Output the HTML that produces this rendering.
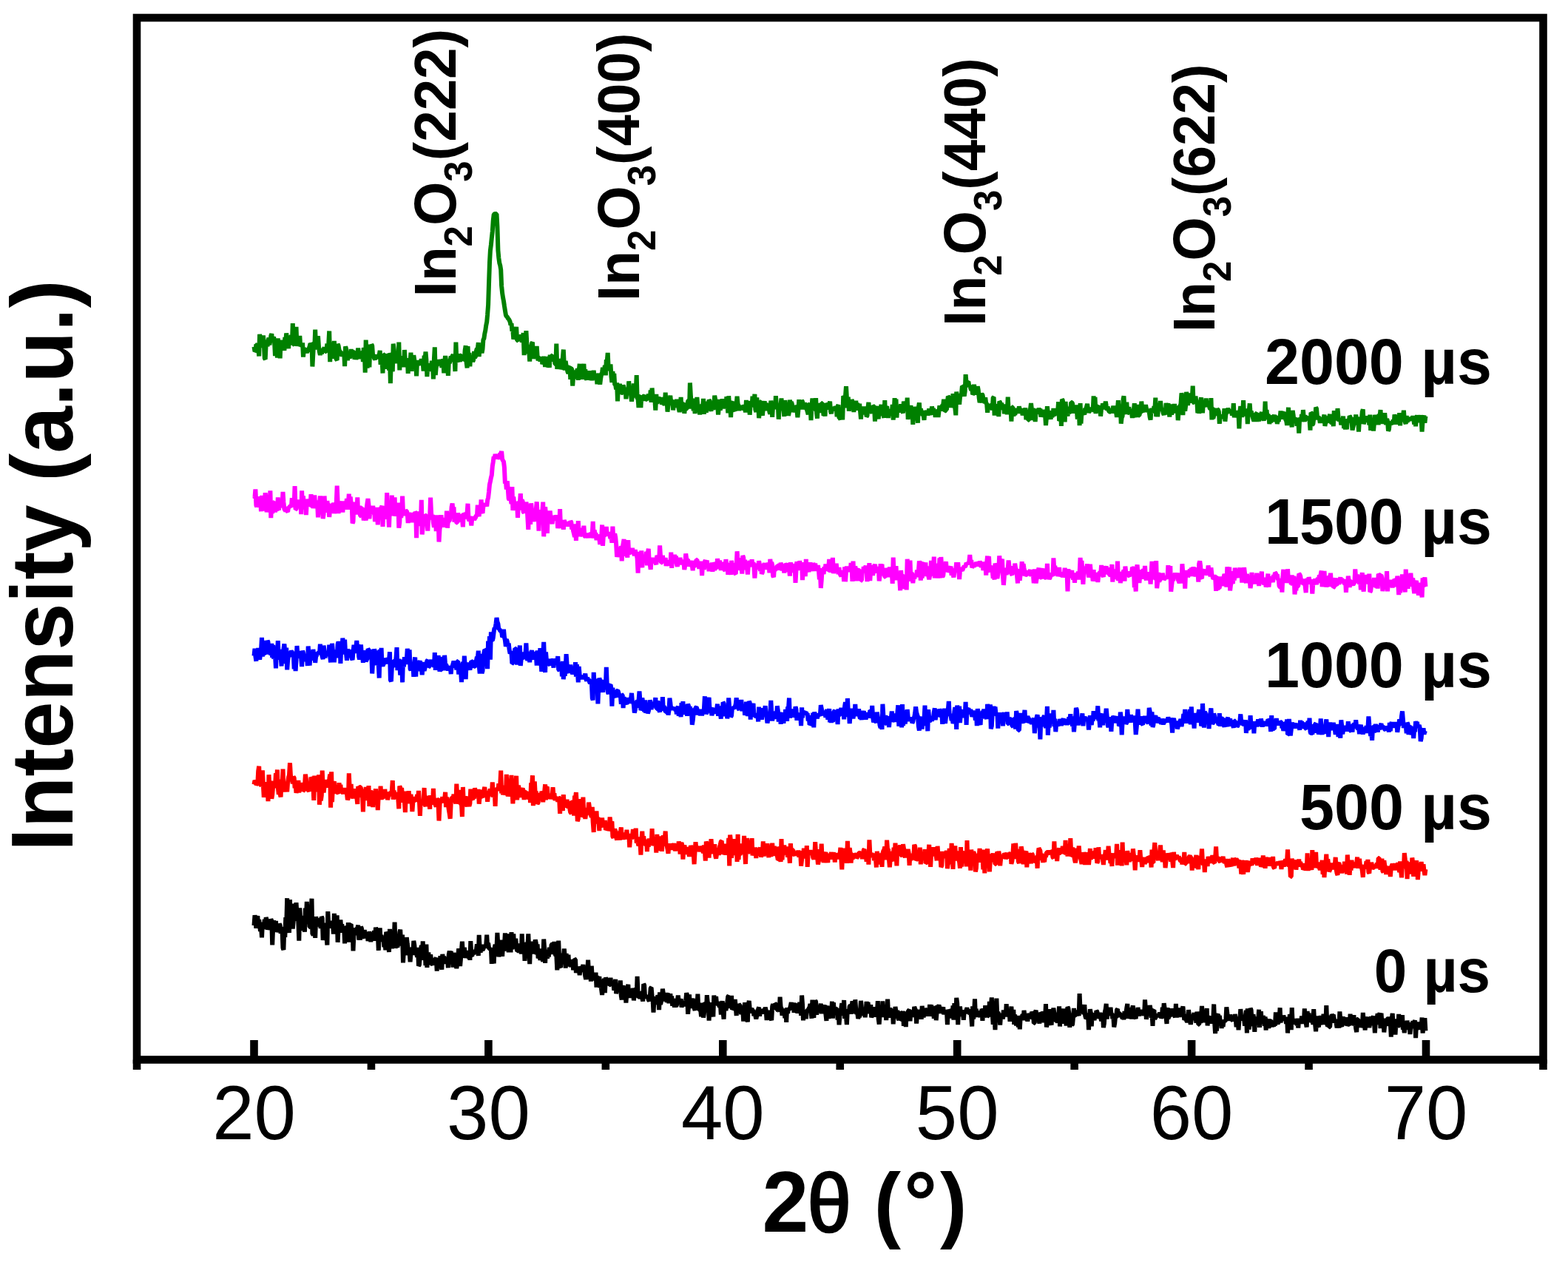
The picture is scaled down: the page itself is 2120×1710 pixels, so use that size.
<!DOCTYPE html>
<html><head><meta charset="utf-8"><style>html,body{margin:0;padding:0;background:#fff;overflow:hidden}svg{display:block}</style></head><body>
<svg width="2120" height="1710" viewBox="0 0 2120 1710">
<rect width="2120" height="1710" fill="#fff"/>
<polyline fill="none" stroke="#008000" stroke-width="6.0" stroke-linejoin="bevel" stroke-linecap="butt" points="343.5,468.8 344.5,475.1 345.4,474.3 346.4,465.5 347.3,466.3 348.3,465.0 349.2,470.2 350.2,481.4 351.1,451.9 352.1,457.6 353.0,463.6 354.0,465.9 354.9,469.5 355.9,453.5 356.8,463.9 357.8,484.6 358.7,485.6 359.7,464.1 360.6,464.2 361.6,468.2 362.5,460.2 363.5,456.8 364.4,466.1 365.4,460.6 366.3,454.1 367.3,451.2 368.2,460.9 369.2,457.1 370.1,455.3 371.1,462.8 372.0,481.0 373.0,461.0 373.9,458.2 374.9,483.7 375.8,457.4 376.8,476.4 377.7,463.8 378.7,484.4 379.6,459.6 380.6,469.8 381.5,461.9 382.5,472.8 383.4,465.3 384.4,473.8 385.3,456.0 386.3,461.5 387.2,450.4 388.2,460.2 389.1,462.5 390.1,471.2 391.0,455.2 392.0,464.9 392.9,456.2 393.9,453.6 394.8,466.5 395.8,437.2 396.7,465.4 397.7,465.7 398.6,453.9 399.6,465.0 400.5,441.8 401.5,467.8 402.4,461.9 403.4,464.4 404.3,466.5 405.3,454.0 406.2,468.4 407.2,465.1 408.1,468.4 409.1,463.5 410.0,482.6 411.0,469.9 412.0,475.8 412.9,470.6 413.9,474.1 414.8,477.1 415.8,472.3 416.7,473.0 417.7,471.1 418.6,468.5 419.6,464.1 420.5,476.0 421.5,463.3 422.4,495.5 423.4,477.1 424.3,462.4 425.3,469.3 426.2,445.7 427.2,472.4 428.1,467.4 429.1,466.0 430.0,454.2 431.0,469.0 431.9,475.5 432.9,479.9 433.8,474.4 434.8,478.4 435.7,474.1 436.7,472.8 437.6,472.1 438.6,469.7 439.5,475.2 440.5,475.0 441.4,473.3 442.4,464.7 443.3,474.6 444.3,464.5 445.2,447.5 446.2,489.1 447.1,468.1 448.1,480.8 449.0,477.3 450.0,484.6 450.9,469.0 451.9,461.0 452.8,479.4 453.8,481.5 454.7,485.5 455.7,486.8 456.6,465.1 457.6,467.3 458.5,472.9 459.5,475.4 460.4,475.3 461.4,477.7 462.3,481.7 463.3,477.2 464.2,481.2 465.2,475.5 466.1,495.2 467.1,468.3 468.0,471.4 469.0,481.2 469.9,487.0 470.9,480.5 471.8,480.4 472.8,483.9 473.7,481.8 474.7,472.1 475.6,477.9 476.6,475.5 477.5,475.4 478.5,476.6 479.5,485.7 480.4,476.5 481.4,485.9 482.3,480.3 483.3,477.7 484.2,470.7 485.2,479.1 486.1,480.6 487.1,484.5 488.0,482.3 489.0,476.9 489.9,476.7 490.9,489.1 491.8,470.2 492.8,472.3 493.7,503.6 494.7,459.5 495.6,482.3 496.6,497.5 497.5,483.3 498.5,483.3 499.4,496.4 500.4,465.7 501.3,474.2 502.3,465.8 503.2,467.1 504.2,482.0 505.1,479.4 506.1,484.6 507.0,485.6 508.0,483.3 508.9,483.5 509.9,482.5 510.8,480.1 511.8,481.5 512.7,480.0 513.7,474.0 514.6,492.9 515.6,485.6 516.5,484.2 517.5,504.5 518.4,479.3 519.4,479.6 520.3,482.4 521.3,480.7 522.2,485.0 523.2,498.9 524.1,478.6 525.1,479.8 526.0,500.5 527.0,484.5 527.9,518.1 528.9,484.5 529.8,477.0 530.8,502.4 531.7,464.7 532.7,472.5 533.6,487.8 534.6,478.2 535.5,486.9 536.5,490.4 537.4,488.0 538.4,487.0 539.3,462.5 540.3,500.4 541.2,481.4 542.2,485.4 543.1,489.1 544.1,493.1 545.0,490.0 546.0,496.1 546.9,473.0 547.9,488.2 548.9,494.6 549.8,491.1 550.8,484.2 551.7,504.8 552.7,484.6 553.6,486.2 554.6,487.3 555.5,476.7 556.5,501.8 557.4,482.2 558.4,493.3 559.3,480.2 560.3,486.8 561.2,492.4 562.2,491.0 563.1,508.3 564.1,487.1 565.0,492.3 566.0,493.1 566.9,490.9 567.9,488.0 568.8,489.4 569.8,485.4 570.7,488.8 571.7,490.1 572.6,501.6 573.6,480.6 574.5,486.5 575.5,475.4 576.4,486.2 577.4,509.0 578.3,496.3 579.3,502.1 580.2,492.0 581.2,493.3 582.1,498.8 583.1,494.3 584.0,487.8 585.0,493.3 585.9,512.4 586.9,485.4 587.8,469.3 588.8,506.9 589.7,496.8 590.7,492.9 591.6,488.8 592.6,491.1 593.5,486.1 594.5,494.2 595.4,491.6 596.4,485.9 597.3,496.9 598.3,492.6 599.2,485.3 600.2,504.3 601.1,488.3 602.1,481.2 603.0,486.7 604.0,490.9 604.9,492.4 605.9,507.9 606.8,489.2 607.8,490.9 608.7,487.5 609.7,481.6 610.6,488.8 611.6,481.1 612.5,480.0 613.5,482.6 614.4,484.2 615.4,502.0 616.4,462.5 617.3,486.3 618.3,489.2 619.2,485.5 620.2,478.3 621.1,484.8 622.1,489.0 623.0,480.8 624.0,480.4 624.9,485.6 625.9,481.0 626.8,486.9 627.8,486.3 628.7,473.2 629.7,467.3 630.6,489.7 631.6,497.4 632.5,468.2 633.5,489.7 634.4,476.9 635.4,495.3 636.3,481.3 637.3,484.1 638.2,483.3 639.2,488.8 640.1,486.5 641.1,475.1 642.0,483.6 643.0,481.8 643.9,474.4 644.9,471.1 645.8,471.4 646.8,463.1 647.7,481.9 648.7,469.8 649.6,467.9 650.6,471.4 651.5,477.2 652.5,471.9 653.4,459.4 654.4,457.5 655.3,451.1 656.3,446.7 657.2,440.2 658.2,435.2 659.1,425.4 660.1,412.1 661.0,383.9 662.0,354.9 662.9,338.6 663.9,330.9 664.8,321.8 665.8,312.8 666.7,298.7 667.7,289.9 668.6,289.3 669.6,288.6 670.5,289.2 671.5,289.5 672.4,305.8 673.4,338.5 674.3,348.3 675.3,355.6 676.2,358.6 677.2,364.7 678.1,386.2 679.1,396.0 680.0,401.9 681.0,407.2 681.9,413.4 682.9,419.7 683.9,425.8 684.8,427.9 685.8,428.2 686.7,430.5 687.7,431.1 688.6,432.7 689.6,435.0 690.5,439.3 691.5,436.9 692.4,447.5 693.4,446.8 694.3,458.6 695.3,453.1 696.2,452.1 697.2,455.3 698.1,441.8 699.1,460.1 700.0,460.3 701.0,456.0 701.9,456.2 702.9,454.8 703.8,459.4 704.8,452.3 705.7,462.7 706.7,458.7 707.6,450.1 708.6,480.1 709.5,465.3 710.5,468.2 711.4,447.1 712.4,465.2 713.3,468.8 714.3,478.1 715.2,472.7 716.2,488.6 717.1,471.7 718.1,477.1 719.0,464.3 720.0,462.6 720.9,484.8 721.9,479.9 722.8,481.1 723.8,475.0 724.7,477.1 725.7,467.9 726.6,481.2 727.6,487.2 728.5,483.6 729.5,483.5 730.4,488.5 731.4,485.0 732.3,482.8 733.3,492.1 734.2,490.1 735.2,481.9 736.1,488.5 737.1,495.8 738.0,483.9 739.0,484.7 739.9,490.6 740.9,496.3 741.8,486.3 742.8,496.9 743.7,479.7 744.7,487.4 745.6,480.9 746.6,480.7 747.5,487.5 748.5,486.9 749.4,479.7 750.4,492.0 751.4,492.3 752.3,464.7 753.3,498.9 754.2,487.2 755.2,488.7 756.1,490.8 757.1,485.1 758.0,499.1 759.0,495.7 759.9,490.1 760.9,483.3 761.8,472.6 762.8,493.7 763.7,500.4 764.7,487.9 765.6,494.6 766.6,497.9 767.5,502.7 768.5,504.6 769.4,496.3 770.4,495.4 771.3,512.9 772.3,498.2 773.2,498.9 774.2,521.6 775.1,509.4 776.1,503.0 777.0,501.2 778.0,505.1 778.9,512.0 779.9,502.9 780.8,498.2 781.8,513.9 782.7,501.5 783.7,491.9 784.6,503.5 785.6,494.4 786.5,499.9 787.5,512.8 788.4,502.1 789.4,491.8 790.3,509.4 791.3,499.3 792.2,511.1 793.2,513.3 794.1,508.4 795.1,507.4 796.0,511.6 797.0,501.3 797.9,509.1 798.9,513.7 799.8,510.3 800.8,514.1 801.7,508.0 802.7,500.9 803.6,510.1 804.6,506.5 805.5,512.1 806.5,504.8 807.4,519.3 808.4,505.5 809.3,509.7 810.3,504.9 811.2,519.7 812.2,511.4 813.1,506.5 814.1,503.0 815.0,497.0 816.0,504.9 816.9,500.6 817.9,493.9 818.9,507.3 819.8,486.5 820.8,488.0 821.7,476.9 822.7,498.0 823.6,500.2 824.6,498.4 825.5,492.5 826.5,509.4 827.4,517.0 828.4,501.9 829.3,512.1 830.3,505.0 831.2,520.2 832.2,520.3 833.1,526.3 834.1,517.4 835.0,542.3 836.0,520.5 836.9,523.8 837.9,518.8 838.8,528.2 839.8,531.6 840.7,531.1 841.7,530.5 842.6,520.6 843.6,524.4 844.5,526.3 845.5,524.8 846.4,539.2 847.4,530.5 848.3,530.1 849.3,532.7 850.2,515.3 851.2,527.9 852.1,528.4 853.1,534.3 854.0,542.7 855.0,535.2 855.9,537.4 856.9,518.5 857.8,531.3 858.8,534.4 859.7,528.7 860.7,507.2 861.6,538.7 862.6,539.3 863.5,550.9 864.5,535.6 865.4,534.8 866.4,551.0 867.3,534.7 868.3,537.8 869.2,541.9 870.2,535.5 871.1,534.8 872.1,537.4 873.0,540.0 874.0,539.8 874.9,538.8 875.9,540.6 876.8,532.6 877.8,535.7 878.7,539.9 879.7,527.5 880.6,543.9 881.6,524.6 882.5,536.4 883.5,539.4 884.4,536.3 885.4,541.2 886.3,554.6 887.3,532.9 888.3,545.6 889.2,541.9 890.2,536.7 891.1,540.1 892.1,537.4 893.0,544.3 894.0,537.0 894.9,546.6 895.9,543.9 896.8,541.5 897.8,545.0 898.7,548.0 899.7,530.6 900.6,546.1 901.6,540.3 902.5,556.6 903.5,547.5 904.4,544.7 905.4,542.1 906.3,534.7 907.3,544.7 908.2,541.7 909.2,541.2 910.1,554.4 911.1,544.3 912.0,542.8 913.0,546.6 913.9,550.7 914.9,539.9 915.8,547.0 916.8,546.3 917.7,552.5 918.7,556.7 919.6,553.1 920.6,536.9 921.5,552.7 922.5,546.3 923.4,545.7 924.4,545.0 925.3,558.9 926.3,548.1 927.2,553.0 928.2,552.3 929.1,550.9 930.1,542.2 931.0,541.7 932.0,552.4 932.9,517.5 933.9,535.3 934.8,544.4 935.8,540.2 936.7,539.0 937.7,555.4 938.6,545.0 939.6,559.1 940.5,548.3 941.5,553.7 942.4,536.9 943.4,548.9 944.3,548.2 945.3,551.1 946.2,560.5 947.2,547.2 948.1,549.9 949.1,547.5 950.0,550.8 951.0,539.0 951.9,559.8 952.9,548.9 953.8,542.6 954.8,557.7 955.8,547.1 956.7,550.2 957.7,546.6 958.6,540.8 959.6,542.1 960.5,552.2 961.5,555.7 962.4,543.6 963.4,550.5 964.3,553.8 965.3,548.1 966.2,534.8 967.2,540.4 968.1,553.0 969.1,549.7 970.0,543.9 971.0,560.5 971.9,551.2 972.9,539.9 973.8,554.6 974.8,546.0 975.7,544.7 976.7,539.5 977.6,544.8 978.6,552.3 979.5,544.4 980.5,552.1 981.4,549.4 982.4,536.2 983.3,545.6 984.3,558.2 985.2,535.3 986.2,547.9 987.1,547.5 988.1,564.0 989.0,544.2 990.0,543.0 990.9,547.8 991.9,544.7 992.8,554.2 993.8,555.3 994.7,548.3 995.7,545.6 996.6,535.9 997.6,546.4 998.5,547.8 999.5,554.8 1000.4,550.5 1001.4,549.5 1002.3,550.3 1003.3,548.8 1004.2,552.1 1005.2,552.3 1006.1,547.6 1007.1,549.4 1008.0,557.3 1009.0,541.0 1009.9,548.3 1010.9,556.9 1011.8,543.0 1012.8,544.8 1013.7,560.7 1014.7,545.5 1015.6,547.1 1016.6,550.3 1017.5,535.7 1018.5,540.0 1019.4,546.8 1020.4,532.8 1021.3,553.6 1022.3,556.9 1023.3,537.4 1024.2,548.3 1025.2,546.8 1026.1,565.1 1027.1,554.3 1028.0,543.4 1029.0,543.2 1029.9,557.5 1030.9,561.6 1031.8,553.0 1032.8,549.3 1033.7,542.2 1034.7,554.8 1035.6,544.6 1036.6,555.0 1037.5,549.7 1038.5,546.6 1039.4,547.7 1040.4,557.0 1041.3,559.5 1042.3,541.6 1043.2,549.6 1044.2,563.9 1045.1,548.7 1046.1,547.4 1047.0,543.6 1048.0,553.3 1048.9,535.2 1049.9,548.4 1050.8,547.5 1051.8,547.1 1052.7,566.7 1053.7,551.9 1054.6,547.7 1055.6,546.7 1056.5,538.5 1057.5,554.6 1058.4,551.3 1059.4,551.8 1060.3,562.9 1061.3,541.1 1062.2,552.0 1063.2,544.0 1064.1,557.7 1065.1,548.4 1066.0,561.8 1067.0,556.8 1067.9,540.6 1068.9,547.8 1069.8,543.4 1070.8,546.0 1071.7,552.8 1072.7,556.8 1073.6,548.9 1074.6,557.5 1075.5,548.3 1076.5,549.8 1077.4,554.6 1078.4,564.2 1079.3,555.3 1080.3,540.3 1081.2,548.7 1082.2,553.2 1083.1,547.9 1084.1,541.8 1085.0,542.7 1086.0,553.3 1086.9,549.6 1087.9,544.6 1088.8,547.4 1089.8,548.7 1090.8,553.6 1091.7,556.2 1092.7,560.4 1093.6,547.2 1094.6,545.9 1095.5,547.6 1096.5,568.1 1097.4,550.0 1098.4,538.5 1099.3,550.8 1100.3,555.3 1101.2,545.6 1102.2,549.3 1103.1,538.2 1104.1,558.6 1105.0,565.5 1106.0,545.1 1106.9,549.8 1107.9,552.6 1108.8,548.8 1109.8,557.8 1110.7,545.1 1111.7,545.2 1112.6,552.1 1113.6,562.0 1114.5,552.5 1115.5,562.7 1116.4,545.3 1117.4,547.0 1118.3,553.1 1119.3,550.2 1120.2,546.8 1121.2,547.3 1122.1,542.6 1123.1,556.6 1124.0,559.1 1125.0,552.8 1125.9,550.4 1126.9,554.5 1127.8,553.2 1128.8,553.1 1129.7,549.5 1130.7,551.8 1131.6,563.3 1132.6,549.2 1133.5,547.4 1134.5,565.0 1135.4,565.3 1136.4,567.0 1137.3,553.8 1138.3,553.0 1139.2,567.5 1140.2,535.3 1141.1,536.4 1142.1,551.2 1143.0,535.4 1144.0,522.3 1144.9,537.7 1145.9,543.3 1146.8,536.6 1147.8,555.7 1148.7,545.8 1149.7,543.5 1150.6,553.4 1151.6,540.1 1152.5,542.9 1153.5,549.1 1154.4,557.0 1155.4,546.1 1156.3,550.3 1157.3,541.8 1158.2,554.8 1159.2,545.0 1160.2,552.0 1161.1,553.3 1162.1,545.9 1163.0,555.1 1164.0,566.5 1164.9,552.2 1165.9,551.8 1166.8,556.7 1167.8,549.8 1168.7,554.6 1169.7,560.1 1170.6,553.9 1171.6,563.1 1172.5,561.9 1173.5,550.8 1174.4,543.9 1175.4,554.9 1176.3,556.5 1177.3,556.0 1178.2,556.1 1179.2,558.6 1180.1,548.6 1181.1,549.4 1182.0,550.0 1183.0,569.5 1183.9,550.6 1184.9,551.7 1185.8,549.2 1186.8,561.5 1187.7,566.2 1188.7,557.0 1189.6,561.6 1190.6,551.8 1191.5,547.0 1192.5,560.4 1193.4,554.6 1194.4,560.9 1195.3,564.7 1196.3,541.2 1197.2,564.9 1198.2,550.6 1199.1,549.4 1200.1,557.3 1201.0,564.9 1202.0,556.1 1202.9,553.8 1203.9,556.3 1204.8,559.3 1205.8,557.7 1206.7,546.9 1207.7,567.5 1208.6,557.3 1209.6,538.2 1210.5,561.3 1211.5,539.7 1212.4,564.5 1213.4,549.0 1214.3,557.3 1215.3,552.3 1216.2,555.9 1217.2,553.0 1218.1,546.5 1219.1,551.0 1220.0,556.1 1221.0,558.4 1221.9,542.7 1222.9,546.7 1223.8,552.1 1224.8,554.9 1225.7,553.1 1226.7,537.6 1227.7,566.9 1228.6,559.9 1229.6,558.9 1230.5,551.8 1231.5,548.4 1232.4,554.9 1233.4,549.8 1234.3,573.9 1235.3,556.1 1236.2,553.7 1237.2,552.8 1238.1,559.0 1239.1,549.8 1240.0,560.8 1241.0,571.6 1241.9,550.5 1242.9,544.5 1243.8,559.9 1244.8,552.6 1245.7,555.9 1246.7,557.4 1247.6,561.7 1248.6,561.1 1249.5,567.8 1250.5,555.0 1251.4,559.5 1252.4,557.9 1253.3,555.1 1254.3,561.4 1255.2,557.8 1256.2,552.6 1257.1,561.0 1258.1,554.7 1259.0,558.2 1260.0,549.5 1260.9,555.7 1261.9,551.7 1262.8,560.5 1263.8,557.3 1264.7,563.8 1265.7,554.2 1266.6,555.6 1267.6,559.0 1268.5,563.8 1269.5,556.2 1270.4,548.4 1271.4,554.5 1272.3,551.9 1273.3,555.4 1274.2,547.1 1275.2,547.4 1276.1,539.8 1277.1,555.9 1278.0,555.4 1279.0,553.9 1279.9,553.7 1280.9,543.4 1281.8,535.8 1282.8,536.8 1283.7,548.6 1284.7,547.0 1285.6,550.3 1286.6,547.7 1287.5,548.6 1288.5,532.3 1289.4,547.0 1290.4,545.4 1291.3,551.5 1292.3,561.3 1293.2,529.5 1294.2,540.4 1295.2,534.8 1296.1,535.9 1297.1,546.8 1298.0,536.9 1299.0,532.8 1299.9,533.6 1300.9,521.9 1301.8,522.4 1302.8,531.7 1303.7,535.5 1304.7,529.0 1305.6,506.2 1306.6,517.4 1307.5,519.3 1308.5,516.4 1309.4,515.9 1310.4,523.2 1311.3,521.1 1312.3,525.1 1313.2,527.5 1314.2,524.2 1315.1,533.2 1316.1,531.9 1317.0,519.8 1318.0,527.2 1318.9,532.7 1319.9,528.1 1320.8,533.4 1321.8,522.2 1322.7,527.1 1323.7,538.1 1324.6,544.0 1325.6,540.8 1326.5,534.3 1327.5,532.7 1328.4,533.7 1329.4,538.4 1330.3,542.7 1331.3,543.6 1332.2,537.5 1333.2,545.0 1334.1,545.6 1335.1,557.8 1336.0,547.9 1337.0,547.4 1337.9,550.5 1338.9,548.9 1339.8,549.4 1340.8,546.2 1341.7,554.3 1342.7,537.5 1343.6,536.8 1344.6,561.6 1345.5,548.5 1346.5,548.6 1347.4,549.1 1348.4,549.5 1349.3,550.8 1350.3,563.0 1351.2,542.6 1352.2,543.8 1353.1,550.2 1354.1,544.9 1355.0,549.6 1356.0,553.5 1356.9,546.5 1357.9,559.3 1358.8,554.3 1359.8,556.3 1360.7,552.9 1361.7,560.1 1362.7,536.6 1363.6,553.1 1364.6,555.0 1365.5,550.5 1366.5,553.7 1367.4,569.7 1368.4,550.3 1369.3,550.4 1370.3,562.5 1371.2,555.4 1372.2,560.8 1373.1,557.5 1374.1,554.7 1375.0,552.7 1376.0,554.8 1376.9,558.6 1377.9,549.2 1378.8,554.4 1379.8,553.9 1380.7,553.8 1381.7,553.1 1382.6,561.3 1383.6,557.6 1384.5,558.7 1385.5,557.8 1386.4,551.4 1387.4,567.2 1388.3,556.5 1389.3,554.4 1390.2,567.8 1391.2,567.8 1392.1,557.2 1393.1,552.3 1394.0,545.0 1395.0,553.8 1395.9,568.1 1396.9,552.1 1397.8,556.0 1398.8,559.6 1399.7,570.0 1400.7,553.5 1401.6,554.8 1402.6,557.8 1403.5,559.4 1404.5,551.6 1405.4,557.1 1406.4,552.5 1407.3,563.6 1408.3,559.2 1409.2,559.8 1410.2,559.5 1411.1,554.2 1412.1,557.2 1413.0,559.5 1414.0,575.1 1414.9,564.7 1415.9,549.3 1416.8,557.2 1417.8,559.5 1418.7,563.2 1419.7,560.8 1420.6,566.7 1421.6,555.3 1422.5,563.2 1423.5,561.5 1424.4,552.0 1425.4,560.9 1426.3,559.9 1427.3,555.2 1428.2,559.7 1429.2,552.8 1430.2,555.3 1431.1,543.3 1432.1,568.8 1433.0,567.5 1434.0,549.4 1434.9,575.9 1435.9,539.9 1436.8,541.0 1437.8,549.8 1438.7,554.6 1439.7,570.4 1440.6,542.9 1441.6,555.9 1442.5,556.5 1443.5,562.5 1444.4,551.6 1445.4,559.6 1446.3,549.8 1447.3,554.0 1448.2,543.9 1449.2,544.0 1450.1,545.5 1451.1,558.6 1452.0,550.8 1453.0,555.2 1453.9,554.0 1454.9,547.6 1455.8,554.6 1456.8,566.5 1457.7,560.7 1458.7,551.7 1459.6,575.1 1460.6,545.0 1461.5,572.5 1462.5,557.2 1463.4,556.8 1464.4,558.2 1465.3,558.5 1466.3,560.5 1467.2,551.9 1468.2,553.4 1469.1,549.7 1470.1,545.9 1471.0,553.1 1472.0,557.6 1472.9,556.0 1473.9,554.9 1474.8,553.0 1475.8,551.8 1476.7,553.2 1477.7,555.8 1478.6,535.4 1479.6,557.1 1480.5,536.8 1481.5,559.0 1482.4,551.5 1483.4,552.5 1484.3,549.8 1485.3,549.3 1486.2,552.9 1487.2,549.5 1488.1,562.6 1489.1,552.3 1490.0,551.4 1491.0,545.5 1491.9,549.9 1492.9,545.5 1493.8,553.3 1494.8,542.6 1495.7,548.4 1496.7,554.5 1497.6,549.7 1498.6,554.5 1499.6,556.1 1500.5,556.7 1501.5,556.6 1502.4,552.1 1503.4,558.5 1504.3,553.2 1505.3,549.0 1506.2,552.8 1507.2,554.0 1508.1,550.1 1509.1,557.9 1510.0,563.7 1511.0,551.8 1511.9,541.2 1512.9,558.9 1513.8,554.8 1514.8,546.6 1515.7,572.6 1516.7,563.9 1517.6,562.8 1518.6,539.6 1519.5,535.5 1520.5,557.6 1521.4,559.2 1522.4,555.8 1523.3,543.8 1524.3,558.7 1525.2,558.1 1526.2,550.4 1527.1,554.2 1528.1,556.8 1529.0,555.7 1530.0,557.8 1530.9,564.8 1531.9,557.9 1532.8,555.3 1533.8,545.3 1534.7,558.2 1535.7,561.3 1536.6,563.5 1537.6,555.7 1538.5,547.0 1539.5,561.5 1540.4,561.4 1541.4,557.2 1542.3,558.6 1543.3,542.6 1544.2,553.2 1545.2,552.5 1546.1,555.0 1547.1,555.1 1548.0,553.7 1549.0,547.3 1549.9,552.2 1550.9,556.7 1551.8,555.1 1552.8,553.7 1553.7,556.9 1554.7,564.0 1555.6,567.6 1556.6,551.9 1557.5,555.1 1558.5,553.7 1559.4,558.3 1560.4,549.0 1561.3,554.4 1562.3,537.6 1563.2,563.1 1564.2,546.5 1565.1,563.3 1566.1,553.0 1567.1,549.4 1568.0,550.8 1569.0,542.1 1569.9,551.4 1570.9,553.9 1571.8,554.2 1572.8,558.6 1573.7,560.7 1574.7,554.1 1575.6,560.4 1576.6,544.9 1577.5,553.3 1578.5,550.5 1579.4,545.3 1580.4,553.5 1581.3,563.4 1582.3,551.9 1583.2,546.4 1584.2,560.6 1585.1,553.3 1586.1,556.6 1587.0,555.9 1588.0,546.1 1588.9,553.3 1589.9,558.0 1590.8,555.4 1591.8,551.5 1592.7,568.2 1593.7,554.2 1594.6,548.7 1595.6,548.9 1596.5,545.8 1597.5,531.4 1598.4,535.4 1599.4,561.1 1600.3,543.6 1601.3,550.0 1602.2,555.7 1603.2,548.1 1604.1,529.8 1605.1,538.7 1606.0,547.9 1607.0,540.7 1607.9,531.5 1608.9,541.9 1609.8,542.0 1610.8,542.0 1611.7,540.2 1612.7,521.6 1613.6,544.0 1614.6,544.6 1615.5,540.4 1616.5,535.5 1617.4,543.5 1618.4,543.6 1619.3,558.2 1620.3,546.2 1621.2,558.9 1622.2,549.4 1623.1,542.1 1624.1,537.4 1625.0,547.2 1626.0,558.2 1626.9,544.9 1627.9,545.7 1628.8,547.9 1629.8,549.9 1630.7,538.5 1631.7,547.5 1632.6,548.2 1633.6,546.6 1634.6,544.9 1635.5,551.6 1636.5,552.9 1637.4,538.2 1638.4,567.3 1639.3,550.8 1640.3,565.6 1641.2,562.3 1642.2,554.2 1643.1,552.1 1644.1,561.5 1645.0,558.3 1646.0,553.3 1646.9,553.9 1647.9,556.6 1648.8,572.8 1649.8,562.6 1650.7,560.8 1651.7,564.7 1652.6,563.3 1653.6,564.0 1654.5,563.2 1655.5,552.2 1656.4,569.6 1657.4,559.9 1658.3,558.2 1659.3,554.5 1660.2,552.5 1661.2,554.4 1662.1,558.7 1663.1,554.3 1664.0,555.7 1665.0,556.5 1665.9,561.6 1666.9,557.9 1667.8,545.2 1668.8,564.3 1669.7,557.9 1670.7,561.6 1671.6,555.1 1672.6,560.6 1673.5,559.8 1674.5,560.1 1675.4,579.3 1676.4,555.5 1677.3,549.3 1678.3,557.8 1679.2,563.7 1680.2,557.0 1681.1,541.1 1682.1,562.2 1683.0,557.9 1684.0,552.7 1684.9,558.0 1685.9,554.2 1686.8,573.1 1687.8,555.0 1688.7,555.3 1689.7,545.4 1690.6,558.2 1691.6,555.7 1692.5,559.0 1693.5,562.9 1694.4,566.3 1695.4,569.4 1696.3,566.1 1697.3,565.3 1698.2,559.1 1699.2,558.6 1700.1,569.8 1701.1,563.4 1702.1,569.6 1703.0,559.4 1704.0,564.3 1704.9,559.8 1705.9,557.4 1706.8,562.2 1707.8,565.7 1708.7,568.3 1709.7,563.9 1710.6,542.7 1711.6,567.1 1712.5,553.9 1713.5,564.9 1714.4,560.2 1715.4,563.1 1716.3,573.1 1717.3,563.0 1718.2,570.7 1719.2,567.7 1720.1,564.0 1721.1,562.5 1722.0,565.3 1723.0,560.7 1723.9,569.9 1724.9,563.7 1725.8,564.3 1726.8,573.0 1727.7,568.0 1728.7,569.9 1729.6,564.0 1730.6,564.6 1731.5,555.5 1732.5,565.1 1733.4,559.3 1734.4,557.7 1735.3,566.8 1736.3,558.6 1737.2,557.6 1738.2,567.6 1739.1,568.3 1740.1,574.9 1741.0,566.2 1742.0,550.8 1742.9,567.1 1743.9,561.2 1744.8,568.5 1745.8,571.2 1746.7,577.3 1747.7,554.9 1748.6,560.9 1749.6,570.2 1750.5,567.3 1751.5,566.1 1752.4,565.4 1753.4,575.6 1754.3,567.2 1755.3,567.6 1756.2,585.5 1757.2,564.9 1758.1,566.0 1759.1,569.8 1760.0,560.1 1761.0,568.9 1761.9,554.1 1762.9,566.4 1763.8,569.8 1764.8,563.9 1765.7,563.8 1766.7,563.7 1767.6,566.4 1768.6,563.7 1769.6,567.7 1770.5,567.3 1771.5,581.6 1772.4,557.8 1773.4,558.7 1774.3,574.0 1775.3,573.4 1776.2,566.2 1777.2,558.7 1778.1,566.7 1779.1,550.6 1780.0,552.6 1781.0,563.3 1781.9,566.7 1782.9,564.3 1783.8,565.1 1784.8,571.7 1785.7,566.3 1786.7,571.5 1787.6,568.0 1788.6,570.5 1789.5,564.7 1790.5,560.8 1791.4,575.9 1792.4,570.5 1793.3,571.3 1794.3,568.3 1795.2,570.8 1796.2,562.9 1797.1,564.2 1798.1,560.0 1799.0,570.8 1800.0,571.1 1800.9,567.0 1801.9,566.3 1802.8,576.2 1803.8,555.2 1804.7,562.3 1805.7,567.6 1806.6,565.8 1807.6,564.3 1808.5,552.1 1809.5,564.1 1810.4,569.1 1811.4,566.5 1812.3,567.9 1813.3,574.3 1814.2,565.3 1815.2,570.1 1816.1,562.6 1817.1,579.0 1818.0,569.5 1819.0,580.6 1819.9,568.6 1820.9,580.2 1821.8,566.4 1822.8,569.5 1823.7,569.5 1824.7,562.5 1825.6,563.4 1826.6,570.5 1827.5,568.8 1828.5,581.4 1829.4,577.1 1830.4,573.7 1831.3,564.3 1832.3,568.8 1833.2,560.7 1834.2,567.5 1835.1,574.0 1836.1,566.2 1837.0,583.6 1838.0,566.5 1839.0,565.6 1839.9,569.4 1840.9,566.4 1841.8,556.7 1842.8,553.4 1843.7,573.1 1844.7,569.8 1845.6,569.1 1846.6,562.7 1847.5,569.6 1848.5,562.3 1849.4,569.0 1850.4,562.9 1851.3,574.5 1852.3,560.7 1853.2,581.8 1854.2,570.1 1855.1,569.0 1856.1,573.6 1857.0,582.4 1858.0,571.5 1858.9,561.0 1859.9,565.3 1860.8,562.9 1861.8,563.4 1862.7,564.9 1863.7,574.2 1864.6,559.6 1865.6,561.9 1866.5,554.2 1867.5,569.9 1868.4,570.0 1869.4,564.0 1870.3,573.0 1871.3,563.5 1872.2,558.2 1873.2,569.2 1874.1,573.9 1875.1,566.3 1876.0,568.7 1877.0,582.6 1877.9,580.6 1878.9,571.9 1879.8,571.6 1880.8,574.0 1881.7,570.1 1882.7,571.2 1883.6,567.7 1884.6,573.7 1885.5,560.5 1886.5,564.5 1887.4,573.2 1888.4,569.5 1889.3,565.6 1890.3,569.4 1891.2,567.5 1892.2,558.2 1893.1,575.3 1894.1,560.6 1895.0,567.6 1896.0,567.8 1896.9,563.1 1897.9,554.8 1898.8,566.7 1899.8,570.5 1900.7,573.0 1901.7,562.1 1902.6,570.1 1903.6,568.0 1904.5,567.4 1905.5,568.5 1906.5,564.3 1907.4,567.1 1908.4,564.2 1909.3,566.3 1910.3,562.5 1911.2,566.3 1912.2,573.7 1913.1,568.0 1914.1,576.2 1915.0,566.0 1916.0,561.5 1916.9,568.5 1917.9,563.0 1918.8,570.8 1919.8,566.4 1920.7,561.4 1921.7,568.3 1922.6,583.5 1923.6,568.3 1924.5,564.2 1925.5,561.9 1926.4,571.6 1927.4,562.7"/>
<polyline fill="none" stroke="#ff00ff" stroke-width="6.0" stroke-linejoin="bevel" stroke-linecap="butt" points="343.5,670.9 344.5,672.1 345.4,661.5 346.4,683.1 347.3,684.9 348.3,671.2 349.2,683.1 350.2,684.9 351.1,677.7 352.1,676.3 353.0,691.2 354.0,669.8 354.9,690.5 355.9,671.9 356.8,688.4 357.8,679.0 358.7,666.3 359.7,673.5 360.6,692.4 361.6,680.5 362.5,683.4 363.5,676.4 364.4,687.0 365.4,663.3 366.3,700.1 367.3,680.1 368.2,693.9 369.2,684.7 370.1,679.4 371.1,679.0 372.0,692.5 373.0,680.6 373.9,689.1 374.9,690.1 375.8,672.5 376.8,689.6 377.7,681.9 378.7,677.6 379.6,680.1 380.6,685.3 381.5,684.3 382.5,665.0 383.4,678.8 384.4,688.3 385.3,689.3 386.3,690.8 387.2,686.7 388.2,690.9 389.1,691.8 390.1,685.1 391.0,685.9 392.0,684.4 392.9,684.1 393.9,685.6 394.8,673.2 395.8,679.7 396.7,683.6 397.7,680.0 398.6,657.1 399.6,688.6 400.5,688.1 401.5,678.7 402.4,682.6 403.4,678.5 404.3,676.6 405.3,678.1 406.2,678.5 407.2,695.1 408.1,663.3 409.1,688.2 410.0,670.5 411.0,688.3 412.0,684.0 412.9,674.6 413.9,696.1 414.8,678.9 415.8,682.3 416.7,681.7 417.7,674.8 418.6,683.8 419.6,683.0 420.5,668.2 421.5,677.4 422.4,669.3 423.4,687.2 424.3,679.7 425.3,669.4 426.2,683.3 427.2,676.7 428.1,683.5 429.1,679.7 430.0,699.3 431.0,681.4 431.9,681.6 432.9,670.5 433.8,686.4 434.8,673.9 435.7,686.2 436.7,701.1 437.6,695.1 438.6,670.5 439.5,685.6 440.5,680.8 441.4,692.8 442.4,677.2 443.3,684.4 444.3,685.6 445.2,698.9 446.2,689.0 447.1,681.0 448.1,685.0 449.0,692.6 450.0,682.0 450.9,681.3 451.9,694.1 452.8,685.2 453.8,679.5 454.7,681.5 455.7,656.7 456.6,677.9 457.6,694.0 458.5,677.8 459.5,681.4 460.4,687.1 461.4,682.1 462.3,677.7 463.3,692.3 464.2,685.0 465.2,677.7 466.1,685.1 467.1,679.5 468.0,681.7 469.0,674.2 469.9,688.7 470.9,681.1 471.8,667.7 472.8,686.0 473.7,671.5 474.7,680.3 475.6,680.7 476.6,707.5 477.5,705.1 478.5,678.7 479.5,690.7 480.4,683.5 481.4,686.2 482.3,695.4 483.3,672.3 484.2,694.2 485.2,686.9 486.1,683.7 487.1,697.2 488.0,697.5 489.0,687.3 489.9,687.3 490.9,694.1 491.8,703.4 492.8,692.9 493.7,687.6 494.7,703.7 495.6,687.5 496.6,679.9 497.5,674.2 498.5,682.7 499.4,701.3 500.4,691.0 501.3,684.8 502.3,691.6 503.2,695.2 504.2,683.8 505.1,690.7 506.1,689.6 507.0,705.1 508.0,694.6 508.9,686.1 509.9,693.9 510.8,709.3 511.8,688.3 512.7,689.0 513.7,688.0 514.6,687.7 515.6,686.5 516.5,683.8 517.5,711.9 518.4,690.1 519.4,692.4 520.3,701.6 521.3,689.7 522.2,695.4 523.2,666.0 524.1,696.2 525.1,696.3 526.0,712.6 527.0,685.5 527.9,685.0 528.9,694.8 529.8,669.6 530.8,696.8 531.7,694.8 532.7,691.8 533.6,672.3 534.6,697.6 535.5,694.0 536.5,689.0 537.4,695.7 538.4,679.6 539.3,713.7 540.3,705.8 541.2,681.6 542.2,699.7 543.1,693.5 544.1,670.7 545.0,692.9 546.0,696.7 546.9,690.6 547.9,693.0 548.9,690.6 549.8,691.0 550.8,694.2 551.7,707.0 552.7,693.3 553.6,696.8 554.6,696.0 555.5,694.7 556.5,695.9 557.4,706.2 558.4,694.7 559.3,704.6 560.3,699.8 561.2,692.0 562.2,693.3 563.1,727.2 564.1,691.3 565.0,710.9 566.0,699.6 566.9,700.3 567.9,692.3 568.8,709.3 569.8,675.8 570.7,722.4 571.7,712.7 572.6,700.1 573.6,700.9 574.5,696.4 575.5,697.0 576.4,697.2 577.4,704.0 578.3,717.6 579.3,699.0 580.2,701.8 581.2,698.1 582.1,672.6 583.1,694.4 584.0,698.7 585.0,695.9 585.9,706.4 586.9,712.9 587.8,701.5 588.8,696.5 589.7,718.0 590.7,700.4 591.6,697.4 592.6,699.3 593.5,732.5 594.5,714.9 595.4,711.7 596.4,696.2 597.3,706.6 598.3,701.1 599.2,709.8 600.2,710.3 601.1,700.0 602.1,712.6 603.0,709.3 604.0,690.6 604.9,713.7 605.9,704.4 606.8,704.4 607.8,703.8 608.7,695.9 609.7,699.3 610.6,685.3 611.6,680.6 612.5,690.6 613.5,685.3 614.4,705.7 615.4,696.8 616.4,703.2 617.3,706.4 618.3,706.5 619.2,693.5 620.2,701.1 621.1,697.1 622.1,705.1 623.0,701.1 624.0,695.2 624.9,701.3 625.9,712.3 626.8,694.0 627.8,695.0 628.7,698.2 629.7,700.0 630.6,698.9 631.6,693.4 632.5,680.8 633.5,701.6 634.4,703.7 635.4,698.1 636.3,702.8 637.3,710.4 638.2,701.5 639.2,700.6 640.1,698.8 641.1,702.8 642.0,700.7 643.0,699.8 643.9,696.3 644.9,698.4 645.8,682.6 646.8,693.9 647.7,698.0 648.7,686.0 649.6,693.9 650.6,675.4 651.5,691.5 652.5,693.8 653.4,684.8 654.4,682.2 655.3,681.0 656.3,683.9 657.2,681.3 658.2,684.4 659.1,676.3 660.1,672.7 661.0,665.0 662.0,654.8 662.9,650.9 663.9,645.7 664.8,642.4 665.8,630.2 666.7,624.7 667.7,617.1 668.6,620.2 669.6,614.0 670.5,618.1 671.5,615.1 672.4,617.8 673.4,618.8 674.3,618.3 675.3,616.8 676.2,612.9 677.2,612.9 678.1,610.1 679.1,620.9 680.0,622.5 681.0,624.1 681.9,631.6 682.9,653.6 683.9,650.6 684.8,661.4 685.8,650.3 686.7,660.0 687.7,674.0 688.6,675.7 689.6,669.8 690.5,675.3 691.5,681.1 692.4,658.1 693.4,690.0 694.3,671.5 695.3,682.1 696.2,678.7 697.2,685.4 698.1,678.8 699.1,680.2 700.0,699.9 701.0,678.5 701.9,682.6 702.9,679.5 703.8,667.2 704.8,689.6 705.7,675.8 706.7,678.0 707.6,691.9 708.6,693.2 709.5,683.8 710.5,692.4 711.4,678.7 712.4,684.5 713.3,698.4 714.3,715.9 715.2,685.8 716.2,697.0 717.1,708.8 718.1,680.4 719.0,689.1 720.0,696.4 720.9,694.8 721.9,705.2 722.8,687.7 723.8,693.4 724.7,690.1 725.7,678.3 726.6,695.0 727.6,691.6 728.5,717.7 729.5,689.3 730.4,694.6 731.4,695.9 732.3,697.2 733.3,691.0 734.2,678.6 735.2,725.3 736.1,710.7 737.1,685.3 738.0,694.4 739.0,711.7 739.9,720.8 740.9,690.8 741.8,699.2 742.8,703.1 743.7,690.4 744.7,702.6 745.6,702.5 746.6,708.2 747.5,700.7 748.5,703.2 749.4,697.1 750.4,699.3 751.4,702.0 752.3,696.5 753.3,700.4 754.2,714.0 755.2,708.3 756.1,713.8 757.1,688.1 758.0,712.7 759.0,707.7 759.9,705.9 760.9,704.1 761.8,715.8 762.8,703.0 763.7,706.6 764.7,711.0 765.6,708.5 766.6,710.7 767.5,707.8 768.5,705.7 769.4,708.5 770.4,711.2 771.3,704.3 772.3,705.9 773.2,715.5 774.2,711.9 775.1,717.7 776.1,721.9 777.0,725.8 778.0,708.4 778.9,730.9 779.9,711.0 780.8,723.4 781.8,704.2 782.7,720.5 783.7,725.0 784.6,715.1 785.6,716.4 786.5,722.9 787.5,723.7 788.4,720.7 789.4,710.8 790.3,724.6 791.3,725.3 792.2,724.3 793.2,723.2 794.1,721.8 795.1,727.1 796.0,720.7 797.0,727.0 797.9,720.6 798.9,721.3 799.8,721.4 800.8,721.2 801.7,704.9 802.7,727.6 803.6,716.5 804.6,721.9 805.5,720.5 806.5,730.2 807.4,723.2 808.4,725.7 809.3,725.0 810.3,728.1 811.2,735.8 812.2,728.7 813.1,727.1 814.1,709.5 815.0,737.8 816.0,721.7 816.9,724.7 817.9,722.7 818.9,719.7 819.8,711.9 820.8,723.9 821.7,722.5 822.7,721.6 823.6,719.5 824.6,725.0 825.5,727.9 826.5,725.6 827.4,733.7 828.4,711.6 829.3,728.9 830.3,725.9 831.2,721.2 832.2,726.4 833.1,735.5 834.1,752.8 835.0,749.0 836.0,740.6 836.9,752.5 837.9,749.9 838.8,743.5 839.8,738.4 840.7,758.4 841.7,740.1 842.6,734.9 843.6,729.0 844.5,748.0 845.5,747.8 846.4,750.9 847.4,748.2 848.3,753.5 849.3,730.2 850.2,748.9 851.2,746.7 852.1,747.3 853.1,741.0 854.0,745.9 855.0,740.9 855.9,748.6 856.9,747.3 857.8,751.2 858.8,743.1 859.7,749.0 860.7,750.4 861.6,754.6 862.6,774.6 863.5,746.2 864.5,749.4 865.4,761.0 866.4,759.0 867.3,744.4 868.3,767.4 869.2,751.6 870.2,754.7 871.1,750.8 872.1,753.8 873.0,755.4 874.0,745.9 874.9,764.4 875.9,747.4 876.8,741.8 877.8,760.4 878.7,762.4 879.7,769.8 880.6,757.5 881.6,757.7 882.5,754.3 883.5,757.3 884.4,758.2 885.4,758.8 886.3,760.6 887.3,763.0 888.3,751.0 889.2,752.5 890.2,757.6 891.1,759.3 892.1,737.4 893.0,751.4 894.0,760.6 894.9,760.5 895.9,751.0 896.8,756.4 897.8,755.0 898.7,759.1 899.7,754.1 900.6,765.0 901.6,757.2 902.5,762.2 903.5,760.7 904.4,763.2 905.4,760.8 906.3,764.7 907.3,746.6 908.2,767.9 909.2,753.2 910.1,752.1 911.1,760.0 912.0,749.7 913.0,761.6 913.9,751.4 914.9,762.6 915.8,765.6 916.8,760.3 917.7,756.2 918.7,760.1 919.6,753.7 920.6,763.2 921.5,760.3 922.5,761.9 923.4,759.4 924.4,759.0 925.3,770.0 926.3,764.3 927.2,748.3 928.2,755.4 929.1,756.6 930.1,756.4 931.0,765.5 932.0,763.0 932.9,761.3 933.9,760.6 934.8,758.2 935.8,764.8 936.7,771.2 937.7,758.1 938.6,765.3 939.6,764.5 940.5,761.7 941.5,756.8 942.4,756.9 943.4,761.0 944.3,763.9 945.3,768.6 946.2,760.7 947.2,762.4 948.1,758.9 949.1,778.1 950.0,764.6 951.0,765.7 951.9,770.0 952.9,759.3 953.8,757.4 954.8,766.3 955.8,757.6 956.7,765.2 957.7,763.4 958.6,772.2 959.6,762.8 960.5,770.6 961.5,763.1 962.4,762.6 963.4,772.8 964.3,760.6 965.3,762.5 966.2,771.1 967.2,764.9 968.1,767.6 969.1,768.8 970.0,755.3 971.0,762.2 971.9,766.5 972.9,757.9 973.8,761.5 974.8,771.0 975.7,761.0 976.7,762.3 977.6,765.8 978.6,768.3 979.5,770.2 980.5,771.7 981.4,756.2 982.4,762.9 983.3,760.9 984.3,776.8 985.2,767.2 986.2,776.3 987.1,765.8 988.1,776.9 989.0,757.9 990.0,766.0 990.9,773.9 991.9,761.2 992.8,769.1 993.8,775.2 994.7,775.8 995.7,763.8 996.6,745.3 997.6,760.5 998.5,764.2 999.5,754.2 1000.4,766.0 1001.4,770.7 1002.3,764.5 1003.3,775.6 1004.2,751.0 1005.2,753.8 1006.1,770.2 1007.1,756.7 1008.0,766.2 1009.0,769.3 1009.9,766.0 1010.9,776.5 1011.8,765.6 1012.8,760.7 1013.7,758.8 1014.7,763.3 1015.6,765.9 1016.6,756.4 1017.5,765.9 1018.5,760.2 1019.4,765.2 1020.4,781.6 1021.3,769.0 1022.3,764.5 1023.3,762.5 1024.2,769.2 1025.2,765.3 1026.1,758.4 1027.1,763.6 1028.0,772.0 1029.0,765.5 1029.9,775.8 1030.9,773.7 1031.8,765.0 1032.8,763.6 1033.7,761.7 1034.7,764.9 1035.6,764.3 1036.6,765.3 1037.5,769.6 1038.5,760.9 1039.4,762.7 1040.4,774.2 1041.3,755.8 1042.3,763.8 1043.2,760.0 1044.2,764.2 1045.1,778.4 1046.1,780.1 1047.0,766.1 1048.0,771.7 1048.9,766.7 1049.9,767.5 1050.8,765.0 1051.8,765.1 1052.7,770.4 1053.7,762.2 1054.6,764.8 1055.6,761.3 1056.5,763.0 1057.5,771.5 1058.4,762.2 1059.4,767.4 1060.3,774.3 1061.3,767.5 1062.2,764.7 1063.2,762.1 1064.1,764.4 1065.1,761.5 1066.0,772.7 1067.0,769.8 1067.9,778.5 1068.9,760.2 1069.8,768.6 1070.8,763.2 1071.7,774.0 1072.7,761.9 1073.6,769.1 1074.6,764.6 1075.5,787.8 1076.5,770.4 1077.4,759.3 1078.4,769.1 1079.3,765.7 1080.3,770.5 1081.2,758.1 1082.2,770.7 1083.1,768.1 1084.1,760.0 1085.0,784.1 1086.0,767.2 1086.9,777.7 1087.9,767.2 1088.8,779.1 1089.8,756.0 1090.8,772.1 1091.7,771.1 1092.7,768.7 1093.6,772.8 1094.6,768.5 1095.5,760.4 1096.5,771.2 1097.4,769.4 1098.4,770.3 1099.3,761.2 1100.3,764.5 1101.2,771.9 1102.2,761.6 1103.1,770.3 1104.1,766.9 1105.0,768.5 1106.0,764.1 1106.9,770.5 1107.9,783.2 1108.8,771.7 1109.8,794.9 1110.7,784.5 1111.7,768.2 1112.6,772.6 1113.6,775.9 1114.5,766.2 1115.5,771.4 1116.4,762.6 1117.4,766.7 1118.3,770.7 1119.3,770.1 1120.2,766.6 1121.2,756.0 1122.1,768.8 1123.1,773.3 1124.0,767.6 1125.0,771.8 1125.9,753.8 1126.9,775.0 1127.8,769.4 1128.8,762.1 1129.7,767.1 1130.7,761.8 1131.6,770.7 1132.6,769.2 1133.5,776.2 1134.5,767.1 1135.4,775.0 1136.4,777.4 1137.3,778.5 1138.3,775.0 1139.2,773.6 1140.2,772.2 1141.1,786.1 1142.1,766.3 1143.0,786.2 1144.0,772.9 1144.9,765.6 1145.9,771.4 1146.8,767.2 1147.8,772.9 1148.7,768.6 1149.7,772.8 1150.6,761.0 1151.6,769.9 1152.5,785.9 1153.5,758.6 1154.4,777.0 1155.4,781.4 1156.3,765.4 1157.3,775.5 1158.2,785.2 1159.2,770.6 1160.2,770.4 1161.1,771.1 1162.1,771.3 1163.0,775.3 1164.0,784.8 1164.9,784.5 1165.9,771.8 1166.8,774.0 1167.8,766.0 1168.7,772.0 1169.7,767.2 1170.6,765.2 1171.6,770.1 1172.5,786.0 1173.5,777.1 1174.4,772.0 1175.4,761.2 1176.3,785.0 1177.3,767.8 1178.2,764.7 1179.2,767.9 1180.1,777.6 1181.1,772.2 1182.0,766.2 1183.0,762.8 1183.9,772.0 1184.9,772.6 1185.8,770.8 1186.8,770.9 1187.7,766.1 1188.7,785.3 1189.6,778.0 1190.6,762.3 1191.5,770.1 1192.5,762.7 1193.4,778.3 1194.4,769.1 1195.3,770.7 1196.3,779.6 1197.2,779.9 1198.2,768.0 1199.1,771.5 1200.1,775.8 1201.0,773.4 1202.0,780.0 1202.9,766.5 1203.9,773.4 1204.8,779.2 1205.8,774.1 1206.7,788.8 1207.7,753.6 1208.6,776.1 1209.6,776.4 1210.5,784.2 1211.5,765.2 1212.4,780.4 1213.4,777.2 1214.3,783.1 1215.3,779.3 1216.2,782.9 1217.2,798.2 1218.1,771.0 1219.1,782.2 1220.0,777.1 1221.0,780.3 1221.9,784.1 1222.9,796.1 1223.8,783.4 1224.8,782.8 1225.7,797.4 1226.7,755.7 1227.7,781.4 1228.6,777.5 1229.6,782.6 1230.5,757.7 1231.5,785.8 1232.4,774.7 1233.4,776.3 1234.3,788.2 1235.3,779.7 1236.2,782.2 1237.2,777.9 1238.1,778.2 1239.1,777.1 1240.0,770.6 1241.0,780.1 1241.9,771.7 1242.9,758.6 1243.8,761.3 1244.8,784.6 1245.7,772.7 1246.7,781.5 1247.6,761.9 1248.6,760.5 1249.5,771.4 1250.5,776.3 1251.4,760.4 1252.4,779.1 1253.3,765.4 1254.3,777.8 1255.2,778.0 1256.2,783.3 1257.1,778.5 1258.1,776.8 1259.0,757.8 1260.0,771.9 1260.9,773.8 1261.9,770.3 1262.8,752.6 1263.8,781.5 1264.7,771.0 1265.7,773.2 1266.6,762.9 1267.6,763.9 1268.5,781.3 1269.5,772.3 1270.4,754.5 1271.4,781.4 1272.3,753.0 1273.3,768.6 1274.2,779.2 1275.2,778.4 1276.1,770.5 1277.1,772.4 1278.0,767.8 1279.0,759.2 1279.9,771.1 1280.9,770.8 1281.8,772.0 1282.8,771.4 1283.7,770.9 1284.7,767.8 1285.6,765.8 1286.6,777.8 1287.5,772.6 1288.5,776.2 1289.4,780.4 1290.4,772.5 1291.3,769.4 1292.3,769.8 1293.2,760.3 1294.2,769.3 1295.2,760.3 1296.1,770.4 1297.1,782.9 1298.0,771.0 1299.0,772.1 1299.9,767.1 1300.9,771.1 1301.8,769.3 1302.8,766.8 1303.7,765.4 1304.7,766.3 1305.6,764.7 1306.6,760.9 1307.5,762.6 1308.5,760.9 1309.4,762.7 1310.4,758.7 1311.3,750.1 1312.3,762.8 1313.2,757.0 1314.2,767.2 1315.1,765.7 1316.1,761.3 1317.0,766.2 1318.0,763.5 1318.9,765.1 1319.9,760.0 1320.8,761.8 1321.8,763.0 1322.7,763.8 1323.7,762.7 1324.6,759.1 1325.6,761.1 1326.5,766.9 1327.5,764.2 1328.4,759.6 1329.4,771.0 1330.3,765.5 1331.3,767.3 1332.2,760.1 1333.2,777.5 1334.1,761.1 1335.1,751.6 1336.0,769.4 1337.0,752.1 1337.9,771.1 1338.9,772.6 1339.8,765.1 1340.8,767.6 1341.7,771.5 1342.7,781.6 1343.6,778.3 1344.6,783.5 1345.5,761.7 1346.5,764.7 1347.4,773.4 1348.4,781.9 1349.3,776.9 1350.3,770.5 1351.2,751.3 1352.2,762.8 1353.1,755.5 1354.1,773.1 1355.0,755.6 1356.0,778.7 1356.9,790.9 1357.9,778.8 1358.8,770.2 1359.8,769.0 1360.7,777.1 1361.7,768.3 1362.7,768.6 1363.6,757.5 1364.6,765.8 1365.5,775.4 1366.5,765.2 1367.4,775.8 1368.4,776.9 1369.3,772.2 1370.3,769.8 1371.2,775.8 1372.2,761.6 1373.1,767.7 1374.1,770.4 1375.0,778.0 1376.0,788.4 1376.9,772.9 1377.9,769.7 1378.8,784.6 1379.8,775.2 1380.7,773.7 1381.7,759.2 1382.6,778.4 1383.6,762.3 1384.5,768.0 1385.5,773.1 1386.4,778.2 1387.4,776.8 1388.3,777.7 1389.3,771.2 1390.2,775.9 1391.2,774.8 1392.1,773.4 1393.1,770.2 1394.0,779.0 1395.0,774.9 1395.9,772.6 1396.9,777.5 1397.8,788.3 1398.8,769.3 1399.7,775.9 1400.7,788.4 1401.6,782.0 1402.6,771.3 1403.5,773.3 1404.5,767.6 1405.4,782.5 1406.4,769.5 1407.3,780.6 1408.3,780.9 1409.2,771.0 1410.2,768.9 1411.1,775.9 1412.1,782.3 1413.0,777.0 1414.0,780.8 1414.9,782.5 1415.9,761.8 1416.8,779.1 1417.8,780.0 1418.7,782.4 1419.7,780.8 1420.6,777.2 1421.6,776.5 1422.5,777.5 1423.5,778.7 1424.4,754.3 1425.4,772.4 1426.3,764.7 1427.3,774.3 1428.2,775.2 1429.2,775.4 1430.2,778.2 1431.1,776.6 1432.1,766.9 1433.0,779.0 1434.0,777.3 1434.9,775.7 1435.9,774.3 1436.8,780.4 1437.8,775.2 1438.7,777.9 1439.7,767.9 1440.6,777.6 1441.6,769.9 1442.5,773.2 1443.5,799.4 1444.4,769.2 1445.4,781.3 1446.3,771.2 1447.3,776.1 1448.2,780.2 1449.2,771.1 1450.1,779.7 1451.1,783.1 1452.0,774.4 1453.0,787.8 1453.9,776.7 1454.9,778.2 1455.8,779.9 1456.8,779.6 1457.7,772.6 1458.7,783.4 1459.6,776.1 1460.6,754.0 1461.5,764.7 1462.5,758.0 1463.4,771.8 1464.4,789.9 1465.3,773.8 1466.3,774.2 1467.2,765.9 1468.2,774.4 1469.1,767.8 1470.1,762.6 1471.0,773.1 1472.0,780.4 1472.9,775.0 1473.9,762.8 1474.8,772.4 1475.8,773.8 1476.7,776.2 1477.7,785.3 1478.6,770.1 1479.6,785.8 1480.5,777.3 1481.5,774.3 1482.4,784.1 1483.4,776.5 1484.3,787.0 1485.3,777.4 1486.2,774.9 1487.2,773.1 1488.1,777.2 1489.1,764.1 1490.0,775.2 1491.0,777.9 1491.9,779.8 1492.9,765.3 1493.8,769.6 1494.8,771.1 1495.7,765.4 1496.7,776.1 1497.6,772.7 1498.6,767.3 1499.6,775.8 1500.5,777.1 1501.5,777.9 1502.4,776.1 1503.4,763.1 1504.3,786.6 1505.3,769.9 1506.2,779.5 1507.2,779.9 1508.1,769.5 1509.1,782.7 1510.0,779.3 1511.0,758.7 1511.9,784.9 1512.9,781.4 1513.8,773.0 1514.8,788.0 1515.7,783.3 1516.7,773.9 1517.6,778.3 1518.6,773.5 1519.5,770.8 1520.5,785.6 1521.4,765.6 1522.4,774.7 1523.3,775.1 1524.3,775.4 1525.2,772.4 1526.2,778.1 1527.1,778.8 1528.1,774.7 1529.0,776.1 1530.0,776.2 1530.9,766.8 1531.9,768.6 1532.8,766.8 1533.8,794.2 1534.7,785.8 1535.7,799.5 1536.6,771.9 1537.6,763.4 1538.5,776.2 1539.5,779.9 1540.4,788.0 1541.4,776.9 1542.3,770.3 1543.3,782.2 1544.2,779.2 1545.2,771.5 1546.1,770.3 1547.1,778.7 1548.0,764.9 1549.0,780.9 1549.9,784.1 1550.9,773.7 1551.8,776.8 1552.8,777.5 1553.7,781.3 1554.7,779.7 1555.6,789.6 1556.6,774.0 1557.5,758.9 1558.5,778.9 1559.4,761.5 1560.4,779.4 1561.3,781.7 1562.3,781.8 1563.2,758.0 1564.2,795.1 1565.1,787.3 1566.1,774.0 1567.1,786.1 1568.0,784.5 1569.0,782.9 1569.9,776.1 1570.9,783.7 1571.8,774.9 1572.8,779.9 1573.7,783.3 1574.7,782.2 1575.6,779.0 1576.6,781.9 1577.5,779.9 1578.5,781.8 1579.4,764.2 1580.4,775.7 1581.3,778.5 1582.3,765.1 1583.2,799.6 1584.2,790.8 1585.1,783.4 1586.1,785.2 1587.0,775.5 1588.0,779.1 1588.9,774.7 1589.9,781.8 1590.8,779.3 1591.8,774.5 1592.7,784.0 1593.7,784.9 1594.6,788.1 1595.6,781.0 1596.5,782.7 1597.5,788.4 1598.4,762.3 1599.4,775.4 1600.3,773.5 1601.3,771.6 1602.2,795.6 1603.2,772.9 1604.1,780.1 1605.1,771.1 1606.0,779.9 1607.0,777.5 1607.9,772.9 1608.9,770.1 1609.8,779.0 1610.8,767.7 1611.7,769.2 1612.7,774.6 1613.6,766.2 1614.6,778.9 1615.5,768.0 1616.5,779.4 1617.4,770.6 1618.4,767.9 1619.3,770.5 1620.3,786.6 1621.2,762.0 1622.2,758.5 1623.1,764.8 1624.1,780.9 1625.0,781.9 1626.0,771.5 1626.9,769.6 1627.9,777.0 1628.8,771.0 1629.8,771.9 1630.7,776.9 1631.7,772.9 1632.6,777.6 1633.6,764.5 1634.6,771.0 1635.5,768.8 1636.5,779.5 1637.4,767.4 1638.4,776.3 1639.3,778.6 1640.3,782.5 1641.2,781.7 1642.2,779.0 1643.1,779.5 1644.1,798.8 1645.0,781.0 1646.0,780.7 1646.9,783.7 1647.9,794.9 1648.8,795.0 1649.8,779.5 1650.7,786.2 1651.7,784.7 1652.6,782.0 1653.6,792.2 1654.5,780.3 1655.5,776.3 1656.4,778.1 1657.4,779.8 1658.3,793.6 1659.3,766.3 1660.2,777.2 1661.2,778.5 1662.1,766.7 1663.1,798.3 1664.0,791.0 1665.0,787.2 1665.9,772.1 1666.9,789.0 1667.8,777.0 1668.8,784.6 1669.7,767.6 1670.7,778.0 1671.6,769.2 1672.6,776.2 1673.5,778.0 1674.5,780.6 1675.4,774.7 1676.4,767.5 1677.3,775.6 1678.3,769.4 1679.2,787.5 1680.2,772.1 1681.1,783.8 1682.1,767.1 1683.0,774.5 1684.0,784.6 1684.9,787.9 1685.9,776.0 1686.8,782.3 1687.8,780.8 1688.7,783.1 1689.7,784.8 1690.6,795.1 1691.6,788.1 1692.5,773.9 1693.5,785.2 1694.4,783.8 1695.4,780.0 1696.3,784.8 1697.3,788.9 1698.2,786.1 1699.2,774.8 1700.1,789.2 1701.1,780.0 1702.1,791.9 1703.0,784.6 1704.0,776.5 1704.9,778.7 1705.9,772.7 1706.8,788.1 1707.8,780.8 1708.7,790.2 1709.7,788.7 1710.6,784.5 1711.6,793.5 1712.5,789.4 1713.5,783.7 1714.4,775.6 1715.4,793.4 1716.3,785.6 1717.3,785.4 1718.2,779.5 1719.2,781.7 1720.1,782.4 1721.1,787.1 1722.0,777.1 1723.0,781.1 1723.9,774.1 1724.9,775.0 1725.8,778.3 1726.8,776.3 1727.7,783.1 1728.7,783.5 1729.6,792.3 1730.6,793.4 1731.5,793.8 1732.5,781.9 1733.4,800.5 1734.4,779.6 1735.3,769.9 1736.3,780.8 1737.2,784.0 1738.2,787.6 1739.1,779.5 1740.1,785.5 1741.0,769.3 1742.0,785.4 1742.9,786.6 1743.9,782.7 1744.8,784.1 1745.8,790.1 1746.7,777.5 1747.7,791.4 1748.6,787.9 1749.6,778.5 1750.5,803.3 1751.5,794.7 1752.4,798.4 1753.4,780.6 1754.3,792.7 1755.3,792.4 1756.2,775.7 1757.2,776.6 1758.1,778.3 1759.1,784.4 1760.0,789.5 1761.0,787.4 1761.9,788.6 1762.9,788.8 1763.8,782.6 1764.8,793.8 1765.7,801.1 1766.7,785.2 1767.6,782.5 1768.6,789.6 1769.6,780.2 1770.5,783.5 1771.5,786.9 1772.4,783.8 1773.4,786.6 1774.3,802.6 1775.3,788.3 1776.2,789.1 1777.2,787.9 1778.1,782.5 1779.1,786.0 1780.0,790.0 1781.0,783.4 1781.9,781.8 1782.9,787.8 1783.8,777.4 1784.8,779.6 1785.7,776.2 1786.7,771.5 1787.6,793.1 1788.6,786.5 1789.5,784.4 1790.5,771.9 1791.4,787.1 1792.4,784.8 1793.3,793.5 1794.3,785.9 1795.2,780.6 1796.2,780.7 1797.1,792.8 1798.1,785.4 1799.0,774.8 1800.0,789.0 1800.9,789.3 1801.9,781.6 1802.8,794.0 1803.8,793.5 1804.7,786.1 1805.7,781.5 1806.6,790.3 1807.6,790.6 1808.5,786.7 1809.5,781.9 1810.4,789.4 1811.4,786.5 1812.3,780.3 1813.3,787.8 1814.2,782.0 1815.2,787.2 1816.1,783.3 1817.1,788.0 1818.0,789.0 1819.0,783.1 1819.9,800.8 1820.9,787.2 1821.8,793.8 1822.8,778.8 1823.7,784.2 1824.7,793.8 1825.6,785.7 1826.6,785.7 1827.5,791.8 1828.5,786.0 1829.4,790.6 1830.4,788.7 1831.3,788.2 1832.3,769.4 1833.2,781.9 1834.2,786.5 1835.1,776.4 1836.1,787.9 1837.0,779.6 1838.0,789.8 1839.0,783.8 1839.9,797.2 1840.9,781.7 1841.8,774.1 1842.8,790.2 1843.7,799.6 1844.7,785.5 1845.6,777.0 1846.6,786.7 1847.5,786.0 1848.5,785.8 1849.4,786.6 1850.4,788.2 1851.3,775.6 1852.3,800.2 1853.2,799.0 1854.2,790.4 1855.1,792.5 1856.1,789.4 1857.0,789.0 1858.0,781.2 1858.9,787.2 1859.9,788.2 1860.8,794.3 1861.8,785.8 1862.7,795.6 1863.7,775.9 1864.6,776.9 1865.6,785.0 1866.5,777.8 1867.5,777.5 1868.4,781.2 1869.4,799.0 1870.3,793.3 1871.3,786.0 1872.2,794.0 1873.2,784.9 1874.1,789.9 1875.1,772.2 1876.0,799.4 1877.0,786.1 1877.9,785.3 1878.9,788.6 1879.8,784.0 1880.8,789.4 1881.7,789.7 1882.7,794.2 1883.6,788.7 1884.6,787.1 1885.5,783.0 1886.5,785.3 1887.4,782.3 1888.4,793.1 1889.3,778.6 1890.3,789.4 1891.2,804.1 1892.2,790.5 1893.1,801.4 1894.1,787.6 1895.0,786.7 1896.0,776.5 1896.9,797.6 1897.9,776.6 1898.8,793.3 1899.8,800.3 1900.7,769.6 1901.7,784.6 1902.6,787.7 1903.6,795.7 1904.5,788.0 1905.5,792.4 1906.5,783.1 1907.4,774.7 1908.4,789.5 1909.3,782.8 1910.3,781.6 1911.2,794.2 1912.2,802.2 1913.1,792.3 1914.1,787.8 1915.0,784.9 1916.0,801.2 1916.9,789.3 1917.9,804.8 1918.8,787.8 1919.8,793.1 1920.7,788.0 1921.7,801.6 1922.6,807.4 1923.6,781.3 1924.5,793.3 1925.5,786.4 1926.4,780.4 1927.4,792.9"/>
<polyline fill="none" stroke="#0000ff" stroke-width="6.0" stroke-linejoin="bevel" stroke-linecap="butt" points="343.5,886.5 344.5,876.8 345.4,887.0 346.4,893.7 347.3,877.8 348.3,888.3 349.2,875.9 350.2,886.5 351.1,891.6 352.1,884.7 353.0,878.7 354.0,861.9 354.9,887.6 355.9,876.4 356.8,883.9 357.8,884.3 358.7,877.2 359.7,865.8 360.6,884.7 361.6,865.8 362.5,868.0 363.5,884.3 364.4,875.3 365.4,877.1 366.3,885.8 367.3,869.9 368.2,888.9 369.2,872.0 370.1,890.7 371.1,874.0 372.0,885.4 373.0,903.3 373.9,880.8 374.9,884.7 375.8,866.2 376.8,889.3 377.7,890.3 378.7,878.0 379.6,887.8 380.6,900.4 381.5,879.6 382.5,897.2 383.4,877.9 384.4,870.4 385.3,881.5 386.3,882.8 387.2,875.5 388.2,905.3 389.1,893.1 390.1,887.0 391.0,887.5 392.0,883.1 392.9,882.4 393.9,880.3 394.8,881.4 395.8,885.7 396.7,881.0 397.7,904.3 398.6,885.2 399.6,907.1 400.5,892.6 401.5,873.1 402.4,884.7 403.4,880.1 404.3,889.7 405.3,881.4 406.2,886.1 407.2,890.1 408.1,901.0 409.1,879.7 410.0,882.6 411.0,889.8 412.0,885.5 412.9,894.3 413.9,884.9 414.8,885.8 415.8,900.0 416.7,873.5 417.7,886.8 418.6,899.6 419.6,886.5 420.5,884.2 421.5,881.5 422.4,892.8 423.4,877.9 424.3,884.5 425.3,886.5 426.2,895.8 427.2,887.0 428.1,886.1 429.1,881.9 430.0,883.5 431.0,881.2 431.9,885.0 432.9,870.7 433.8,884.9 434.8,883.1 435.7,887.6 436.7,891.0 437.6,872.7 438.6,879.9 439.5,889.3 440.5,880.7 441.4,885.5 442.4,883.2 443.3,880.8 444.3,887.1 445.2,871.8 446.2,887.2 447.1,895.4 448.1,880.8 449.0,869.9 450.0,880.6 450.9,881.0 451.9,895.2 452.8,880.7 453.8,881.1 454.7,879.4 455.7,889.3 456.6,870.9 457.6,867.6 458.5,879.1 459.5,866.9 460.4,896.8 461.4,873.0 462.3,884.4 463.3,862.6 464.2,871.3 465.2,874.9 466.1,864.7 467.1,883.6 468.0,883.7 469.0,892.7 469.9,878.5 470.9,879.9 471.8,878.3 472.8,886.5 473.7,887.5 474.7,881.7 475.6,889.6 476.6,892.1 477.5,880.9 478.5,871.7 479.5,882.1 480.4,880.1 481.4,874.6 482.3,866.0 483.3,877.9 484.2,871.1 485.2,887.6 486.1,891.3 487.1,882.2 488.0,871.5 489.0,886.7 489.9,884.8 490.9,895.8 491.8,884.4 492.8,879.4 493.7,888.9 494.7,894.2 495.6,892.0 496.6,890.3 497.5,877.2 498.5,878.5 499.4,887.9 500.4,884.6 501.3,878.2 502.3,886.2 503.2,910.5 504.2,892.3 505.1,885.5 506.1,877.5 507.0,881.7 508.0,879.6 508.9,899.4 509.9,887.9 510.8,892.9 511.8,899.3 512.7,916.5 513.7,878.1 514.6,893.1 515.6,875.9 516.5,898.3 517.5,900.1 518.4,898.0 519.4,895.7 520.3,894.9 521.3,890.0 522.2,891.4 523.2,894.5 524.1,897.1 525.1,890.6 526.0,892.7 527.0,881.2 527.9,919.3 528.9,921.0 529.8,902.5 530.8,900.8 531.7,894.1 532.7,894.1 533.6,901.7 534.6,897.3 535.5,889.7 536.5,875.2 537.4,906.1 538.4,893.5 539.3,890.9 540.3,897.9 541.2,912.5 542.2,894.9 543.1,892.0 544.1,922.4 545.0,891.8 546.0,901.4 546.9,888.1 547.9,895.4 548.9,897.4 549.8,892.4 550.8,876.9 551.7,886.2 552.7,892.9 553.6,878.3 554.6,904.3 555.5,905.9 556.5,902.9 557.4,902.0 558.4,897.0 559.3,914.8 560.3,894.9 561.2,888.5 562.2,914.5 563.1,899.3 564.1,902.8 565.0,893.1 566.0,903.6 566.9,896.2 567.9,893.1 568.8,907.4 569.8,902.8 570.7,912.3 571.7,900.7 572.6,895.0 573.6,906.8 574.5,903.2 575.5,895.1 576.4,900.8 577.4,893.2 578.3,892.5 579.3,901.8 580.2,901.0 581.2,899.2 582.1,894.5 583.1,892.6 584.0,895.2 585.0,899.8 585.9,895.6 586.9,901.9 587.8,882.2 588.8,905.8 589.7,888.4 590.7,902.1 591.6,903.9 592.6,886.1 593.5,896.6 594.5,907.7 595.4,888.0 596.4,905.4 597.3,905.6 598.3,889.5 599.2,899.4 600.2,906.1 601.1,885.8 602.1,898.8 603.0,898.1 604.0,901.0 604.9,900.3 605.9,906.4 606.8,902.0 607.8,906.3 608.7,900.6 609.7,911.1 610.6,900.7 611.6,900.6 612.5,897.7 613.5,893.7 614.4,897.5 615.4,902.5 616.4,897.0 617.3,905.5 618.3,894.2 619.2,894.0 620.2,911.5 621.1,903.7 622.1,896.7 623.0,906.9 624.0,922.1 624.9,902.8 625.9,894.8 626.8,914.4 627.8,886.7 628.7,898.9 629.7,918.2 630.6,895.8 631.6,905.7 632.5,895.5 633.5,902.9 634.4,901.2 635.4,905.5 636.3,899.2 637.3,893.9 638.2,894.3 639.2,902.8 640.1,892.5 641.1,898.4 642.0,900.7 643.0,901.1 643.9,893.2 644.9,887.8 645.8,889.8 646.8,879.7 647.7,899.5 648.7,910.6 649.6,883.9 650.6,892.9 651.5,910.2 652.5,906.9 653.4,891.7 654.4,882.4 655.3,878.3 656.3,878.9 657.2,888.2 658.2,885.1 659.1,904.1 660.1,866.7 661.0,884.2 662.0,860.2 662.9,891.7 663.9,854.3 664.8,865.5 665.8,865.8 666.7,862.2 667.7,853.8 668.6,848.7 669.6,849.2 670.5,843.1 671.5,835.1 672.4,840.6 673.4,843.3 674.3,850.4 675.3,850.6 676.2,852.5 677.2,853.2 678.1,852.6 679.1,861.1 680.0,860.3 681.0,850.7 681.9,860.8 682.9,865.6 683.9,874.0 684.8,864.2 685.8,867.4 686.7,874.0 687.7,869.7 688.6,877.9 689.6,883.4 690.5,882.1 691.5,883.0 692.4,896.8 693.4,896.4 694.3,880.6 695.3,885.3 696.2,876.7 697.2,877.0 698.1,880.2 699.1,898.5 700.0,888.3 701.0,883.7 701.9,881.8 702.9,872.5 703.8,899.9 704.8,890.0 705.7,888.2 706.7,882.5 707.6,883.8 708.6,888.9 709.5,889.6 710.5,883.2 711.4,869.4 712.4,890.2 713.3,892.2 714.3,887.9 715.2,882.5 716.2,895.2 717.1,882.8 718.1,882.2 719.0,879.3 720.0,886.0 720.9,888.6 721.9,891.0 722.8,886.0 723.8,883.5 724.7,883.3 725.7,899.6 726.6,879.5 727.6,892.2 728.5,884.0 729.5,888.6 730.4,876.1 731.4,896.3 732.3,907.7 733.3,893.7 734.2,885.7 735.2,867.9 736.1,893.0 737.1,909.0 738.0,881.4 739.0,893.3 739.9,899.0 740.9,892.9 741.8,891.2 742.8,897.9 743.7,899.1 744.7,893.4 745.6,892.5 746.6,892.8 747.5,895.2 748.5,902.5 749.4,890.6 750.4,893.8 751.4,892.1 752.3,893.1 753.3,894.6 754.2,887.1 755.2,905.3 756.1,905.8 757.1,895.6 758.0,900.4 759.0,896.0 759.9,914.4 760.9,893.8 761.8,918.2 762.8,906.0 763.7,913.7 764.7,903.6 765.6,884.1 766.6,898.1 767.5,899.7 768.5,907.7 769.4,908.9 770.4,904.6 771.3,898.5 772.3,909.7 773.2,904.7 774.2,911.6 775.1,905.9 776.1,900.8 777.0,911.5 778.0,895.1 778.9,914.7 779.9,898.3 780.8,906.3 781.8,922.3 782.7,901.1 783.7,912.8 784.6,914.3 785.6,916.0 786.5,916.6 787.5,913.0 788.4,918.3 789.4,912.7 790.3,915.6 791.3,910.6 792.2,917.5 793.2,920.4 794.1,915.9 795.1,919.2 796.0,917.9 797.0,921.8 797.9,923.8 798.9,919.7 799.8,920.7 800.8,943.7 801.7,946.3 802.7,908.9 803.6,924.6 804.6,917.9 805.5,927.6 806.5,931.4 807.4,919.2 808.4,951.5 809.3,929.2 810.3,916.8 811.2,919.5 812.2,919.7 813.1,925.9 814.1,924.0 815.0,935.9 816.0,918.9 816.9,925.8 817.9,921.5 818.9,927.7 819.8,901.9 820.8,927.3 821.7,935.1 822.7,938.1 823.6,932.3 824.6,926.3 825.5,925.5 826.5,931.1 827.4,954.7 828.4,929.9 829.3,939.2 830.3,939.3 831.2,935.4 832.2,940.9 833.1,942.4 834.1,934.0 835.0,933.6 836.0,935.2 836.9,938.6 837.9,939.7 838.8,939.7 839.8,951.7 840.7,939.2 841.7,939.6 842.6,957.1 843.6,942.0 844.5,949.8 845.5,943.3 846.4,950.3 847.4,951.8 848.3,945.1 849.3,946.9 850.2,943.5 851.2,950.6 852.1,946.4 853.1,944.2 854.0,936.9 855.0,949.4 855.9,948.0 856.9,953.0 857.8,963.6 858.8,959.5 859.7,953.7 860.7,956.5 861.6,946.6 862.6,947.9 863.5,947.2 864.5,934.5 865.4,946.8 866.4,959.9 867.3,958.1 868.3,943.4 869.2,948.8 870.2,956.7 871.1,961.9 872.1,946.5 873.0,963.9 874.0,957.2 874.9,956.3 875.9,964.5 876.8,961.4 877.8,955.3 878.7,946.5 879.7,949.9 880.6,959.2 881.6,950.2 882.5,954.6 883.5,953.5 884.4,953.0 885.4,951.4 886.3,943.1 887.3,957.2 888.3,957.5 889.2,947.2 890.2,960.9 891.1,959.5 892.1,962.5 893.0,954.5 894.0,948.6 894.9,960.8 895.9,942.2 896.8,959.5 897.8,955.1 898.7,956.4 899.7,962.2 900.6,962.1 901.6,962.6 902.5,957.4 903.5,966.5 904.4,961.2 905.4,943.6 906.3,949.8 907.3,959.7 908.2,956.0 909.2,958.2 910.1,956.4 911.1,959.0 912.0,958.5 913.0,959.2 913.9,957.8 914.9,965.3 915.8,957.4 916.8,955.0 917.7,967.9 918.7,959.1 919.6,956.5 920.6,969.2 921.5,950.2 922.5,964.5 923.4,948.2 924.4,965.9 925.3,959.7 926.3,959.1 927.2,957.2 928.2,952.6 929.1,967.7 930.1,951.8 931.0,954.3 932.0,966.6 932.9,955.0 933.9,963.0 934.8,957.3 935.8,979.7 936.7,974.1 937.7,964.4 938.6,961.6 939.6,966.1 940.5,956.6 941.5,956.0 942.4,958.2 943.4,966.1 944.3,963.7 945.3,965.8 946.2,964.2 947.2,966.9 948.1,958.8 949.1,967.4 950.0,959.8 951.0,965.1 951.9,958.4 952.9,941.3 953.8,959.9 954.8,964.3 955.8,963.2 956.7,960.3 957.7,947.0 958.6,942.9 959.6,961.1 960.5,957.1 961.5,959.1 962.4,967.1 963.4,962.9 964.3,959.1 965.3,958.7 966.2,960.3 967.2,959.2 968.1,964.7 969.1,958.7 970.0,951.7 971.0,967.7 971.9,960.2 972.9,954.5 973.8,964.0 974.8,971.5 975.7,955.5 976.7,960.6 977.6,949.5 978.6,950.6 979.5,964.2 980.5,967.8 981.4,961.5 982.4,956.6 983.3,971.3 984.3,962.7 985.2,943.4 986.2,956.8 987.1,958.3 988.1,968.8 989.0,967.7 990.0,956.1 990.9,956.8 991.9,958.0 992.8,955.5 993.8,955.6 994.7,952.1 995.7,943.3 996.6,953.9 997.6,956.4 998.5,958.0 999.5,959.4 1000.4,946.1 1001.4,956.7 1002.3,945.9 1003.3,961.2 1004.2,955.3 1005.2,959.8 1006.1,953.2 1007.1,966.7 1008.0,962.3 1009.0,948.7 1009.9,960.3 1010.9,967.9 1011.8,961.3 1012.8,947.9 1013.7,950.0 1014.7,972.5 1015.6,952.9 1016.6,962.6 1017.5,956.2 1018.5,950.9 1019.4,966.2 1020.4,967.9 1021.3,964.2 1022.3,970.0 1023.3,968.6 1024.2,966.2 1025.2,975.4 1026.1,955.7 1027.1,968.3 1028.0,969.2 1029.0,957.1 1029.9,972.8 1030.9,961.5 1031.8,963.4 1032.8,963.5 1033.7,960.2 1034.7,954.2 1035.6,963.5 1036.6,970.0 1037.5,977.5 1038.5,971.8 1039.4,964.5 1040.4,971.4 1041.3,966.4 1042.3,946.9 1043.2,962.5 1044.2,974.5 1045.1,965.0 1046.1,967.7 1047.0,962.5 1048.0,963.7 1048.9,969.5 1049.9,970.6 1050.8,954.3 1051.8,960.7 1052.7,975.5 1053.7,968.9 1054.6,962.8 1055.6,978.8 1056.5,963.5 1057.5,967.6 1058.4,965.1 1059.4,977.8 1060.3,966.9 1061.3,967.2 1062.2,959.0 1063.2,962.8 1064.1,974.9 1065.1,955.3 1066.0,957.6 1067.0,943.5 1067.9,970.2 1068.9,966.5 1069.8,958.7 1070.8,965.2 1071.7,961.7 1072.7,965.6 1073.6,969.0 1074.6,967.4 1075.5,955.2 1076.5,958.9 1077.4,973.7 1078.4,966.3 1079.3,971.1 1080.3,964.0 1081.2,966.3 1082.2,967.5 1083.1,981.1 1084.1,956.4 1085.0,970.1 1086.0,960.9 1086.9,964.8 1087.9,962.3 1088.8,963.9 1089.8,962.8 1090.8,965.7 1091.7,964.3 1092.7,974.4 1093.6,966.9 1094.6,979.8 1095.5,978.7 1096.5,971.7 1097.4,976.6 1098.4,975.6 1099.3,963.8 1100.3,983.4 1101.2,962.5 1102.2,967.5 1103.1,971.0 1104.1,968.4 1105.0,971.2 1106.0,964.8 1106.9,966.5 1107.9,966.0 1108.8,967.9 1109.8,953.2 1110.7,957.5 1111.7,962.8 1112.6,964.8 1113.6,961.9 1114.5,966.9 1115.5,963.6 1116.4,969.7 1117.4,961.2 1118.3,959.8 1119.3,972.7 1120.2,965.3 1121.2,958.2 1122.1,976.4 1123.1,962.6 1124.0,977.0 1125.0,961.8 1125.9,975.8 1126.9,967.4 1127.8,961.6 1128.8,960.7 1129.7,966.7 1130.7,971.1 1131.6,967.3 1132.6,979.0 1133.5,958.4 1134.5,966.4 1135.4,966.0 1136.4,963.1 1137.3,957.0 1138.3,963.1 1139.2,960.8 1140.2,958.6 1141.1,972.4 1142.1,955.0 1143.0,949.2 1144.0,963.9 1144.9,968.8 1145.9,944.0 1146.8,962.0 1147.8,962.6 1148.7,978.0 1149.7,966.6 1150.6,963.5 1151.6,957.9 1152.5,963.2 1153.5,971.3 1154.4,965.3 1155.4,966.5 1156.3,952.0 1157.3,968.2 1158.2,960.1 1159.2,963.5 1160.2,964.3 1161.1,958.2 1162.1,967.9 1163.0,971.6 1164.0,967.5 1164.9,973.1 1165.9,960.8 1166.8,969.5 1167.8,961.2 1168.7,965.9 1169.7,966.7 1170.6,972.2 1171.6,967.9 1172.5,967.3 1173.5,963.3 1174.4,967.9 1175.4,969.8 1176.3,960.3 1177.3,960.9 1178.2,970.8 1179.2,954.0 1180.1,969.0 1181.1,976.4 1182.0,973.5 1183.0,967.8 1183.9,975.1 1184.9,976.8 1185.8,962.6 1186.8,969.3 1187.7,971.7 1188.7,974.1 1189.6,980.7 1190.6,983.9 1191.5,974.1 1192.5,986.0 1193.4,951.8 1194.4,968.3 1195.3,977.9 1196.3,972.2 1197.2,967.1 1198.2,978.1 1199.1,979.2 1200.1,970.3 1201.0,968.7 1202.0,983.0 1202.9,972.9 1203.9,975.5 1204.8,970.4 1205.8,961.5 1206.7,970.3 1207.7,964.6 1208.6,973.5 1209.6,975.1 1210.5,972.4 1211.5,972.0 1212.4,975.1 1213.4,962.9 1214.3,953.4 1215.3,981.6 1216.2,972.6 1217.2,979.1 1218.1,966.3 1219.1,983.4 1220.0,952.2 1221.0,980.9 1221.9,970.6 1222.9,960.3 1223.8,978.5 1224.8,968.3 1225.7,975.2 1226.7,959.1 1227.7,969.4 1228.6,974.5 1229.6,972.2 1230.5,972.1 1231.5,972.6 1232.4,969.5 1233.4,977.5 1234.3,975.4 1235.3,970.7 1236.2,969.6 1237.2,963.6 1238.1,955.3 1239.1,963.1 1240.0,966.0 1241.0,969.0 1241.9,981.8 1242.9,987.6 1243.8,971.8 1244.8,971.9 1245.7,968.9 1246.7,985.5 1247.6,970.2 1248.6,975.2 1249.5,972.9 1250.5,953.6 1251.4,975.3 1252.4,980.6 1253.3,974.0 1254.3,988.2 1255.2,959.2 1256.2,970.2 1257.1,974.5 1258.1,973.8 1259.0,968.2 1260.0,974.6 1260.9,970.0 1261.9,970.9 1262.8,962.5 1263.8,957.4 1264.7,973.1 1265.7,965.7 1266.6,963.6 1267.6,959.2 1268.5,968.1 1269.5,966.8 1270.4,958.7 1271.4,961.2 1272.3,960.9 1273.3,964.0 1274.2,978.7 1275.2,964.1 1276.1,974.3 1277.1,957.6 1278.0,977.9 1279.0,969.1 1279.9,961.0 1280.9,967.9 1281.8,959.9 1282.8,948.0 1283.7,966.5 1284.7,965.6 1285.6,967.8 1286.6,974.0 1287.5,969.5 1288.5,977.9 1289.4,974.5 1290.4,961.8 1291.3,956.1 1292.3,968.8 1293.2,985.9 1294.2,953.5 1295.2,964.9 1296.1,960.5 1297.1,954.5 1298.0,976.9 1299.0,964.3 1299.9,966.6 1300.9,961.3 1301.8,960.5 1302.8,970.1 1303.7,960.3 1304.7,967.0 1305.6,948.9 1306.6,980.0 1307.5,956.5 1308.5,965.5 1309.4,957.3 1310.4,963.5 1311.3,963.2 1312.3,959.0 1313.2,963.7 1314.2,968.7 1315.1,966.1 1316.1,960.6 1317.0,967.1 1318.0,967.2 1318.9,973.6 1319.9,963.2 1320.8,981.0 1321.8,958.1 1322.7,969.2 1323.7,972.4 1324.6,976.9 1325.6,979.9 1326.5,963.8 1327.5,971.6 1328.4,960.8 1329.4,964.5 1330.3,958.6 1331.3,962.8 1332.2,965.7 1333.2,969.0 1334.1,971.9 1335.1,951.8 1336.0,965.1 1337.0,969.2 1337.9,967.8 1338.9,952.3 1339.8,985.1 1340.8,981.5 1341.7,964.0 1342.7,961.6 1343.6,954.9 1344.6,964.8 1345.5,955.6 1346.5,965.3 1347.4,966.0 1348.4,964.3 1349.3,984.6 1350.3,968.0 1351.2,971.0 1352.2,963.5 1353.1,967.1 1354.1,973.7 1355.0,966.4 1356.0,981.2 1356.9,968.3 1357.9,963.2 1358.8,973.3 1359.8,963.0 1360.7,974.0 1361.7,962.4 1362.7,978.2 1363.6,978.3 1364.6,970.3 1365.5,972.1 1366.5,978.2 1367.4,971.7 1368.4,981.3 1369.3,981.6 1370.3,975.9 1371.2,970.9 1372.2,971.4 1373.1,985.5 1374.1,961.2 1375.0,965.6 1376.0,976.4 1376.9,987.2 1377.9,987.1 1378.8,972.4 1379.8,974.4 1380.7,963.9 1381.7,973.8 1382.6,977.8 1383.6,968.3 1384.5,968.2 1385.5,959.9 1386.4,976.9 1387.4,970.3 1388.3,972.8 1389.3,968.1 1390.2,970.8 1391.2,971.5 1392.1,977.4 1393.1,975.4 1394.0,975.2 1395.0,978.6 1395.9,976.0 1396.9,973.1 1397.8,970.9 1398.8,991.1 1399.7,982.5 1400.7,982.7 1401.6,969.8 1402.6,966.2 1403.5,976.8 1404.5,970.7 1405.4,969.6 1406.4,999.4 1407.3,974.3 1408.3,982.0 1409.2,976.6 1410.2,975.6 1411.1,969.1 1412.1,967.8 1413.0,974.3 1414.0,984.2 1414.9,974.8 1415.9,954.9 1416.8,993.7 1417.8,976.8 1418.7,983.4 1419.7,972.8 1420.6,974.4 1421.6,964.5 1422.5,975.1 1423.5,976.7 1424.4,959.8 1425.4,982.0 1426.3,971.7 1427.3,989.2 1428.2,977.9 1429.2,978.3 1430.2,981.5 1431.1,975.8 1432.1,979.7 1433.0,972.1 1434.0,975.1 1434.9,981.1 1435.9,972.6 1436.8,974.2 1437.8,971.3 1438.7,979.9 1439.7,972.1 1440.6,979.8 1441.6,973.2 1442.5,980.0 1443.5,972.7 1444.4,973.7 1445.4,969.6 1446.3,973.7 1447.3,965.3 1448.2,979.4 1449.2,968.4 1450.1,981.9 1451.1,974.0 1452.0,989.2 1453.0,976.7 1453.9,972.8 1454.9,957.0 1455.8,959.3 1456.8,971.0 1457.7,980.3 1458.7,972.5 1459.6,976.8 1460.6,977.7 1461.5,974.6 1462.5,972.0 1463.4,964.4 1464.4,981.3 1465.3,970.6 1466.3,970.5 1467.2,969.5 1468.2,972.5 1469.1,971.5 1470.1,973.1 1471.0,973.7 1472.0,986.6 1472.9,976.2 1473.9,967.3 1474.8,975.4 1475.8,980.0 1476.7,971.6 1477.7,974.5 1478.6,961.2 1479.6,972.3 1480.5,962.9 1481.5,967.8 1482.4,965.1 1483.4,966.0 1484.3,954.3 1485.3,974.4 1486.2,970.0 1487.2,983.3 1488.1,966.6 1489.1,964.8 1490.0,971.5 1491.0,980.4 1491.9,966.8 1492.9,976.6 1493.8,966.8 1494.8,966.7 1495.7,957.7 1496.7,968.2 1497.6,979.9 1498.6,983.0 1499.6,972.0 1500.5,969.8 1501.5,975.3 1502.4,988.7 1503.4,973.1 1504.3,970.8 1505.3,968.5 1506.2,971.2 1507.2,968.0 1508.1,977.3 1509.1,970.0 1510.0,976.8 1511.0,968.6 1511.9,971.3 1512.9,981.2 1513.8,980.1 1514.8,962.7 1515.7,969.3 1516.7,993.4 1517.6,975.5 1518.6,977.2 1519.5,972.5 1520.5,969.2 1521.4,971.4 1522.4,978.5 1523.3,977.0 1524.3,959.0 1525.2,970.4 1526.2,975.4 1527.1,970.5 1528.1,976.8 1529.0,966.2 1530.0,974.5 1530.9,972.7 1531.9,974.1 1532.8,975.2 1533.8,967.7 1534.7,975.4 1535.7,993.0 1536.6,984.2 1537.6,972.3 1538.5,958.6 1539.5,976.7 1540.4,972.1 1541.4,972.1 1542.3,979.7 1543.3,968.3 1544.2,978.5 1545.2,979.4 1546.1,973.5 1547.1,973.8 1548.0,967.9 1549.0,973.5 1549.9,970.5 1550.9,976.1 1551.8,976.4 1552.8,977.6 1553.7,956.9 1554.7,961.7 1555.6,968.3 1556.6,980.8 1557.5,962.4 1558.5,982.9 1559.4,979.8 1560.4,966.8 1561.3,974.1 1562.3,967.0 1563.2,977.3 1564.2,972.3 1565.1,971.4 1566.1,970.0 1567.1,975.9 1568.0,974.3 1569.0,976.6 1569.9,977.2 1570.9,971.7 1571.8,975.1 1572.8,979.2 1573.7,976.2 1574.7,975.8 1575.6,974.7 1576.6,972.6 1577.5,974.5 1578.5,974.2 1579.4,969.6 1580.4,973.5 1581.3,970.7 1582.3,976.1 1583.2,973.7 1584.2,979.1 1585.1,990.5 1586.1,973.5 1587.0,971.0 1588.0,976.3 1588.9,981.6 1589.9,978.9 1590.8,974.7 1591.8,985.3 1592.7,982.4 1593.7,976.1 1594.6,978.8 1595.6,974.5 1596.5,972.3 1597.5,982.0 1598.4,976.8 1599.4,972.5 1600.3,965.1 1601.3,971.0 1602.2,959.1 1603.2,967.0 1604.1,977.4 1605.1,972.5 1606.0,971.9 1607.0,975.2 1607.9,972.8 1608.9,959.0 1609.8,979.4 1610.8,955.5 1611.7,971.5 1612.7,974.8 1613.6,971.1 1614.6,984.6 1615.5,964.1 1616.5,968.6 1617.4,973.5 1618.4,972.2 1619.3,976.5 1620.3,964.3 1621.2,959.3 1622.2,971.4 1623.1,966.5 1624.1,981.4 1625.0,978.0 1626.0,951.0 1626.9,969.3 1627.9,983.6 1628.8,962.2 1629.8,963.9 1630.7,970.0 1631.7,970.9 1632.6,967.7 1633.6,971.3 1634.6,985.0 1635.5,968.2 1636.5,963.3 1637.4,957.5 1638.4,975.4 1639.3,978.3 1640.3,976.9 1641.2,964.5 1642.2,968.5 1643.1,973.0 1644.1,970.3 1645.0,975.9 1646.0,975.8 1646.9,977.7 1647.9,980.1 1648.8,964.1 1649.8,981.8 1650.7,969.9 1651.7,971.4 1652.6,971.5 1653.6,972.6 1654.5,978.7 1655.5,982.8 1656.4,971.0 1657.4,979.7 1658.3,981.7 1659.3,972.1 1660.2,969.9 1661.2,979.5 1662.1,981.4 1663.1,971.6 1664.0,976.6 1665.0,977.2 1665.9,975.7 1666.9,979.2 1667.8,983.8 1668.8,974.4 1669.7,974.6 1670.7,982.4 1671.6,977.8 1672.6,982.3 1673.5,981.1 1674.5,975.9 1675.4,977.0 1676.4,974.4 1677.3,965.4 1678.3,977.0 1679.2,976.7 1680.2,979.9 1681.1,978.1 1682.1,980.7 1683.0,978.0 1684.0,973.5 1684.9,990.9 1685.9,978.2 1686.8,987.2 1687.8,975.2 1688.7,984.3 1689.7,984.1 1690.6,967.1 1691.6,982.1 1692.5,979.9 1693.5,985.1 1694.4,975.3 1695.4,991.4 1696.3,976.2 1697.3,977.4 1698.2,979.1 1699.2,981.8 1700.1,978.7 1701.1,972.4 1702.1,981.3 1703.0,978.2 1704.0,977.3 1704.9,971.7 1705.9,976.5 1706.8,982.5 1707.8,977.7 1708.7,980.0 1709.7,974.9 1710.6,981.2 1711.6,975.1 1712.5,981.4 1713.5,976.4 1714.4,972.7 1715.4,973.7 1716.3,979.4 1717.3,979.4 1718.2,988.9 1719.2,967.1 1720.1,983.1 1721.1,978.7 1722.0,985.1 1723.0,985.2 1723.9,974.9 1724.9,977.6 1725.8,971.2 1726.8,978.8 1727.7,976.6 1728.7,980.0 1729.6,977.9 1730.6,977.2 1731.5,976.1 1732.5,976.3 1733.4,984.1 1734.4,981.9 1735.3,987.9 1736.3,982.7 1737.2,978.1 1738.2,977.8 1739.1,986.1 1740.1,972.4 1741.0,992.9 1742.0,992.3 1742.9,971.9 1743.9,984.3 1744.8,994.5 1745.8,986.2 1746.7,976.8 1747.7,980.1 1748.6,979.8 1749.6,984.4 1750.5,979.2 1751.5,979.8 1752.4,978.4 1753.4,981.4 1754.3,978.4 1755.3,984.4 1756.2,979.5 1757.2,986.9 1758.1,973.7 1759.1,983.2 1760.0,975.1 1761.0,981.7 1761.9,981.5 1762.9,984.3 1763.8,976.5 1764.8,984.5 1765.7,984.8 1766.7,981.9 1767.6,983.4 1768.6,974.7 1769.6,986.1 1770.5,970.6 1771.5,989.2 1772.4,991.7 1773.4,991.0 1774.3,992.7 1775.3,979.5 1776.2,982.2 1777.2,984.3 1778.1,978.9 1779.1,978.0 1780.0,990.7 1781.0,978.6 1781.9,982.7 1782.9,992.6 1783.8,988.7 1784.8,986.7 1785.7,971.5 1786.7,986.4 1787.6,993.0 1788.6,979.6 1789.5,986.2 1790.5,991.2 1791.4,988.5 1792.4,979.1 1793.3,972.4 1794.3,988.2 1795.2,978.0 1796.2,996.1 1797.1,981.2 1798.1,976.7 1799.0,983.0 1800.0,983.5 1800.9,982.6 1801.9,987.1 1802.8,976.8 1803.8,986.6 1804.7,985.0 1805.7,992.9 1806.6,984.1 1807.6,979.3 1808.5,982.2 1809.5,996.0 1810.4,984.2 1811.4,988.7 1812.3,997.7 1813.3,973.4 1814.2,981.3 1815.2,992.2 1816.1,987.4 1817.1,985.5 1818.0,981.5 1819.0,983.5 1819.9,981.9 1820.9,983.4 1821.8,988.4 1822.8,975.2 1823.7,985.6 1824.7,980.9 1825.6,987.5 1826.6,988.0 1827.5,983.4 1828.5,989.5 1829.4,978.6 1830.4,982.9 1831.3,977.2 1832.3,982.8 1833.2,973.2 1834.2,983.0 1835.1,983.6 1836.1,985.7 1837.0,983.5 1838.0,992.2 1839.0,983.1 1839.9,979.9 1840.9,986.3 1841.8,985.2 1842.8,992.7 1843.7,986.1 1844.7,987.9 1845.6,983.2 1846.6,991.1 1847.5,981.0 1848.5,989.6 1849.4,984.8 1850.4,968.4 1851.3,979.6 1852.3,988.0 1853.2,994.8 1854.2,990.1 1855.1,1000.8 1856.1,982.9 1857.0,982.8 1858.0,989.8 1858.9,986.7 1859.9,978.9 1860.8,985.5 1861.8,982.6 1862.7,989.5 1863.7,982.7 1864.6,981.3 1865.6,986.3 1866.5,980.5 1867.5,978.3 1868.4,983.1 1869.4,982.1 1870.3,983.1 1871.3,983.5 1872.2,985.8 1873.2,986.5 1874.1,984.1 1875.1,982.0 1876.0,984.3 1877.0,984.7 1877.9,989.5 1878.9,977.0 1879.8,988.2 1880.8,978.7 1881.7,976.4 1882.7,983.1 1883.6,980.8 1884.6,980.1 1885.5,983.6 1886.5,976.2 1887.4,980.4 1888.4,977.8 1889.3,989.7 1890.3,983.0 1891.2,979.8 1892.2,972.5 1893.1,979.9 1894.1,977.7 1895.0,968.2 1896.0,961.5 1896.9,972.5 1897.9,983.9 1898.8,979.3 1899.8,980.2 1900.7,980.8 1901.7,991.3 1902.6,977.0 1903.6,978.9 1904.5,993.0 1905.5,981.2 1906.5,983.7 1907.4,981.7 1908.4,993.2 1909.3,990.0 1910.3,986.2 1911.2,998.0 1912.2,985.5 1913.1,989.3 1914.1,975.3 1915.0,978.3 1916.0,975.8 1916.9,983.9 1917.9,982.0 1918.8,980.2 1919.8,984.5 1920.7,1002.2 1921.7,997.8 1922.6,985.1 1923.6,992.2 1924.5,984.4 1925.5,992.6 1926.4,989.1 1927.4,987.6"/>
<polyline fill="none" stroke="#ff0000" stroke-width="6.0" stroke-linejoin="bevel" stroke-linecap="butt" points="343.5,1060.4 344.5,1055.1 345.4,1056.6 346.4,1060.7 347.3,1059.8 348.3,1059.2 349.2,1042.1 350.2,1035.8 351.1,1059.8 352.1,1056.1 353.0,1063.0 354.0,1060.5 354.9,1041.5 355.9,1061.6 356.8,1077.9 357.8,1061.9 358.7,1057.5 359.7,1063.0 360.6,1063.8 361.6,1066.5 362.5,1083.1 363.5,1047.3 364.4,1061.0 365.4,1066.9 366.3,1055.7 367.3,1079.7 368.2,1074.5 369.2,1062.4 370.1,1061.5 371.1,1063.9 372.0,1062.6 373.0,1045.2 373.9,1063.3 374.9,1040.5 375.8,1064.7 376.8,1073.9 377.7,1067.8 378.7,1073.5 379.6,1077.4 380.6,1053.6 381.5,1065.7 382.5,1039.6 383.4,1064.9 384.4,1062.5 385.3,1070.5 386.3,1060.4 387.2,1065.5 388.2,1070.2 389.1,1057.2 390.1,1050.6 391.0,1048.0 392.0,1031.3 392.9,1047.5 393.9,1053.2 394.8,1052.5 395.8,1059.4 396.7,1050.2 397.7,1051.4 398.6,1065.4 399.6,1059.8 400.5,1071.8 401.5,1067.1 402.4,1067.7 403.4,1054.8 404.3,1071.4 405.3,1064.9 406.2,1059.4 407.2,1065.9 408.1,1069.8 409.1,1058.0 410.0,1068.7 411.0,1068.2 412.0,1061.9 412.9,1046.8 413.9,1053.2 414.8,1064.8 415.8,1064.9 416.7,1068.2 417.7,1069.7 418.6,1062.2 419.6,1068.2 420.5,1050.6 421.5,1052.5 422.4,1058.3 423.4,1060.6 424.3,1081.9 425.3,1048.7 426.2,1065.3 427.2,1056.4 428.1,1059.8 429.1,1065.5 430.0,1069.9 431.0,1047.4 431.9,1087.8 432.9,1064.2 433.8,1082.3 434.8,1075.2 435.7,1041.7 436.7,1064.5 437.6,1071.4 438.6,1063.5 439.5,1062.6 440.5,1054.0 441.4,1064.5 442.4,1056.8 443.3,1056.5 444.3,1058.4 445.2,1053.2 446.2,1046.6 447.1,1091.7 448.1,1043.4 449.0,1084.1 450.0,1060.4 450.9,1062.2 451.9,1056.1 452.8,1070.6 453.8,1062.8 454.7,1072.9 455.7,1061.6 456.6,1071.3 457.6,1072.5 458.5,1058.2 459.5,1067.8 460.4,1060.8 461.4,1072.4 462.3,1066.7 463.3,1070.2 464.2,1073.0 465.2,1065.1 466.1,1071.7 467.1,1069.9 468.0,1067.4 469.0,1073.1 469.9,1081.2 470.9,1078.8 471.8,1045.3 472.8,1067.7 473.7,1064.4 474.7,1059.8 475.6,1077.9 476.6,1075.8 477.5,1079.2 478.5,1069.4 479.5,1078.1 480.4,1066.3 481.4,1077.9 482.3,1077.7 483.3,1086.8 484.2,1063.1 485.2,1065.5 486.1,1064.0 487.1,1064.1 488.0,1065.6 489.0,1077.5 489.9,1070.5 490.9,1097.3 491.8,1070.0 492.8,1067.2 493.7,1082.1 494.7,1064.0 495.6,1078.0 496.6,1073.5 497.5,1073.8 498.5,1062.2 499.4,1090.0 500.4,1076.5 501.3,1070.2 502.3,1071.0 503.2,1073.7 504.2,1091.2 505.1,1070.9 506.1,1075.3 507.0,1072.6 508.0,1066.4 508.9,1086.8 509.9,1079.2 510.8,1095.1 511.8,1074.6 512.7,1071.9 513.7,1077.5 514.6,1062.6 515.6,1080.9 516.5,1075.2 517.5,1078.9 518.4,1077.3 519.4,1074.5 520.3,1067.0 521.3,1074.5 522.2,1075.9 523.2,1070.5 524.1,1081.2 525.1,1075.8 526.0,1075.0 527.0,1071.3 527.9,1071.6 528.9,1072.5 529.8,1069.5 530.8,1055.0 531.7,1080.7 532.7,1068.9 533.6,1073.6 534.6,1079.9 535.5,1071.3 536.5,1078.4 537.4,1071.0 538.4,1081.1 539.3,1093.2 540.3,1062.6 541.2,1064.7 542.2,1084.8 543.1,1064.9 544.1,1077.8 545.0,1078.1 546.0,1078.8 546.9,1083.7 547.9,1098.1 548.9,1069.7 549.8,1083.9 550.8,1078.1 551.7,1086.1 552.7,1069.3 553.6,1083.4 554.6,1077.3 555.5,1074.0 556.5,1080.7 557.4,1097.0 558.4,1083.2 559.3,1083.5 560.3,1081.4 561.2,1083.6 562.2,1077.2 563.1,1080.3 564.1,1074.3 565.0,1081.0 566.0,1068.9 566.9,1081.8 567.9,1102.8 568.8,1082.1 569.8,1086.8 570.7,1088.4 571.7,1083.0 572.6,1086.1 573.6,1065.0 574.5,1086.7 575.5,1090.1 576.4,1075.6 577.4,1082.2 578.3,1078.9 579.3,1079.8 580.2,1083.6 581.2,1093.7 582.1,1075.2 583.1,1080.9 584.0,1084.3 585.0,1087.4 585.9,1065.9 586.9,1086.6 587.8,1079.5 588.8,1088.5 589.7,1090.1 590.7,1079.5 591.6,1081.1 592.6,1087.2 593.5,1109.5 594.5,1088.1 595.4,1079.2 596.4,1083.4 597.3,1082.9 598.3,1077.4 599.2,1084.8 600.2,1082.8 601.1,1080.8 602.1,1070.9 603.0,1091.0 604.0,1077.6 604.9,1085.7 605.9,1087.6 606.8,1094.6 607.8,1100.6 608.7,1106.7 609.7,1085.2 610.6,1078.4 611.6,1078.3 612.5,1081.6 613.5,1073.7 614.4,1083.5 615.4,1082.6 616.4,1086.3 617.3,1059.7 618.3,1079.7 619.2,1083.2 620.2,1085.8 621.1,1081.3 622.1,1068.0 623.0,1087.8 624.0,1087.3 624.9,1104.0 625.9,1064.0 626.8,1084.5 627.8,1082.9 628.7,1079.1 629.7,1076.5 630.6,1086.3 631.6,1090.3 632.5,1077.3 633.5,1086.7 634.4,1089.8 635.4,1085.9 636.3,1066.7 637.3,1081.6 638.2,1078.2 639.2,1081.1 640.1,1075.0 641.1,1079.5 642.0,1065.2 643.0,1071.8 643.9,1072.3 644.9,1069.1 645.8,1074.5 646.8,1066.8 647.7,1086.7 648.7,1076.5 649.6,1067.9 650.6,1072.4 651.5,1069.7 652.5,1076.8 653.4,1077.5 654.4,1067.8 655.3,1064.0 656.3,1077.3 657.2,1073.6 658.2,1071.5 659.1,1083.7 660.1,1073.8 661.0,1071.9 662.0,1069.3 662.9,1066.8 663.9,1073.9 664.8,1075.2 665.8,1057.5 666.7,1077.7 667.7,1068.4 668.6,1067.9 669.6,1089.9 670.5,1068.0 671.5,1067.9 672.4,1065.2 673.4,1069.1 674.3,1059.3 675.3,1063.7 676.2,1062.2 677.2,1041.7 678.1,1072.3 679.1,1065.8 680.0,1074.3 681.0,1069.2 681.9,1061.8 682.9,1071.8 683.9,1074.2 684.8,1046.9 685.8,1073.3 686.7,1075.8 687.7,1073.2 688.6,1069.0 689.6,1076.7 690.5,1060.9 691.5,1048.0 692.4,1066.2 693.4,1086.3 694.3,1071.8 695.3,1070.3 696.2,1075.9 697.2,1060.5 698.1,1048.8 699.1,1081.2 700.0,1069.9 701.0,1061.8 701.9,1067.0 702.9,1076.4 703.8,1074.7 704.8,1077.5 705.7,1067.6 706.7,1065.5 707.6,1071.8 708.6,1080.9 709.5,1070.3 710.5,1070.1 711.4,1073.4 712.4,1077.9 713.3,1077.8 714.3,1075.7 715.2,1070.3 716.2,1074.6 717.1,1085.0 718.1,1058.3 719.0,1064.2 720.0,1048.3 720.9,1089.1 721.9,1075.3 722.8,1056.3 723.8,1075.0 724.7,1069.5 725.7,1080.6 726.6,1086.5 727.6,1085.1 728.5,1076.2 729.5,1072.4 730.4,1075.0 731.4,1080.9 732.3,1069.8 733.3,1072.6 734.2,1084.2 735.2,1074.7 736.1,1070.7 737.1,1060.4 738.0,1081.4 739.0,1064.6 739.9,1063.7 740.9,1077.1 741.8,1078.6 742.8,1076.3 743.7,1073.2 744.7,1080.0 745.6,1075.9 746.6,1077.0 747.5,1064.2 748.5,1076.5 749.4,1072.2 750.4,1082.0 751.4,1078.3 752.3,1079.2 753.3,1078.2 754.2,1083.8 755.2,1077.8 756.1,1078.8 757.1,1099.8 758.0,1078.8 759.0,1092.1 759.9,1089.5 760.9,1096.0 761.8,1074.2 762.8,1087.2 763.7,1084.2 764.7,1087.2 765.6,1091.4 766.6,1080.8 767.5,1089.0 768.5,1092.1 769.4,1083.0 770.4,1093.8 771.3,1098.4 772.3,1099.1 773.2,1091.1 774.2,1082.4 775.1,1083.9 776.1,1102.5 777.0,1075.5 778.0,1078.5 778.9,1071.1 779.9,1089.9 780.8,1110.2 781.8,1106.9 782.7,1080.2 783.7,1095.4 784.6,1098.7 785.6,1093.1 786.5,1090.8 787.5,1104.6 788.4,1077.7 789.4,1105.1 790.3,1094.4 791.3,1106.9 792.2,1100.3 793.2,1094.8 794.1,1092.9 795.1,1098.3 796.0,1084.8 797.0,1091.6 797.9,1100.3 798.9,1101.7 799.8,1104.7 800.8,1091.0 801.7,1111.6 802.7,1125.0 803.6,1100.1 804.6,1107.7 805.5,1105.0 806.5,1096.4 807.4,1113.3 808.4,1105.0 809.3,1110.1 810.3,1123.0 811.2,1107.8 812.2,1116.6 813.1,1118.2 814.1,1105.5 815.0,1115.7 816.0,1113.9 816.9,1117.9 817.9,1109.0 818.9,1121.7 819.8,1120.6 820.8,1114.2 821.7,1114.8 822.7,1123.0 823.6,1120.3 824.6,1104.5 825.5,1112.4 826.5,1112.1 827.4,1110.4 828.4,1131.1 829.3,1132.1 830.3,1123.2 831.2,1121.3 832.2,1123.1 833.1,1131.1 834.1,1135.6 835.0,1124.1 836.0,1127.9 836.9,1127.1 837.9,1135.6 838.8,1125.1 839.8,1118.4 840.7,1130.3 841.7,1129.4 842.6,1134.8 843.6,1127.8 844.5,1128.3 845.5,1126.5 846.4,1134.5 847.4,1121.8 848.3,1132.4 849.3,1132.3 850.2,1127.0 851.2,1145.4 852.1,1133.4 853.1,1131.2 854.0,1134.2 855.0,1129.4 855.9,1121.1 856.9,1126.4 857.8,1128.3 858.8,1133.5 859.7,1119.7 860.7,1139.6 861.6,1134.2 862.6,1139.7 863.5,1143.2 864.5,1131.4 865.4,1138.0 866.4,1155.7 867.3,1135.4 868.3,1123.7 869.2,1141.4 870.2,1130.4 871.1,1139.0 872.1,1140.8 873.0,1141.4 874.0,1134.8 874.9,1151.1 875.9,1134.6 876.8,1144.7 877.8,1133.6 878.7,1140.2 879.7,1138.7 880.6,1142.8 881.6,1120.2 882.5,1142.8 883.5,1140.2 884.4,1131.3 885.4,1136.4 886.3,1132.3 887.3,1152.7 888.3,1127.8 889.2,1143.7 890.2,1132.4 891.1,1149.6 892.1,1130.5 893.0,1149.9 894.0,1138.7 894.9,1150.7 895.9,1134.7 896.8,1129.6 897.8,1141.5 898.7,1134.6 899.7,1123.6 900.6,1142.4 901.6,1142.8 902.5,1147.6 903.5,1153.8 904.4,1141.3 905.4,1147.6 906.3,1140.3 907.3,1146.7 908.2,1145.1 909.2,1148.4 910.1,1144.8 911.1,1140.0 912.0,1147.4 913.0,1149.3 913.9,1147.5 914.9,1146.7 915.8,1140.7 916.8,1149.5 917.7,1137.4 918.7,1144.0 919.6,1154.6 920.6,1140.9 921.5,1139.4 922.5,1143.0 923.4,1161.6 924.4,1146.6 925.3,1142.6 926.3,1147.3 927.2,1154.7 928.2,1151.0 929.1,1145.1 930.1,1150.2 931.0,1153.2 932.0,1157.7 932.9,1153.0 933.9,1143.1 934.8,1146.3 935.8,1148.8 936.7,1151.1 937.7,1153.6 938.6,1168.2 939.6,1150.4 940.5,1138.3 941.5,1148.2 942.4,1144.7 943.4,1146.5 944.3,1148.1 945.3,1150.1 946.2,1148.7 947.2,1150.3 948.1,1144.0 949.1,1146.2 950.0,1149.8 951.0,1152.9 951.9,1142.5 952.9,1150.3 953.8,1163.6 954.8,1137.6 955.8,1140.9 956.7,1147.2 957.7,1140.6 958.6,1159.6 959.6,1142.4 960.5,1154.2 961.5,1134.2 962.4,1146.3 963.4,1154.0 964.3,1147.3 965.3,1151.1 966.2,1141.3 967.2,1156.5 968.1,1160.6 969.1,1154.5 970.0,1147.9 971.0,1148.5 971.9,1155.9 972.9,1145.1 973.8,1141.8 974.8,1137.5 975.7,1136.9 976.7,1146.8 977.6,1154.7 978.6,1146.8 979.5,1155.1 980.5,1140.6 981.4,1155.7 982.4,1141.4 983.3,1153.9 984.3,1152.1 985.2,1132.8 986.2,1170.4 987.1,1128.5 988.1,1137.3 989.0,1159.6 990.0,1150.1 990.9,1147.6 991.9,1134.1 992.8,1156.0 993.8,1138.0 994.7,1153.1 995.7,1134.3 996.6,1165.0 997.6,1127.8 998.5,1162.1 999.5,1147.1 1000.4,1156.2 1001.4,1143.1 1002.3,1154.9 1003.3,1140.4 1004.2,1151.2 1005.2,1148.6 1006.1,1129.8 1007.1,1151.1 1008.0,1168.0 1009.0,1142.6 1009.9,1133.2 1010.9,1139.6 1011.8,1147.0 1012.8,1151.6 1013.7,1151.8 1014.7,1142.7 1015.6,1150.9 1016.6,1133.1 1017.5,1156.4 1018.5,1151.9 1019.4,1152.3 1020.4,1150.7 1021.3,1145.5 1022.3,1160.0 1023.3,1147.3 1024.2,1156.3 1025.2,1151.5 1026.1,1153.3 1027.1,1148.2 1028.0,1146.0 1029.0,1158.4 1029.9,1155.1 1030.9,1152.9 1031.8,1137.5 1032.8,1157.6 1033.7,1144.6 1034.7,1148.0 1035.6,1149.8 1036.6,1153.9 1037.5,1140.2 1038.5,1152.2 1039.4,1159.1 1040.4,1143.0 1041.3,1147.6 1042.3,1158.0 1043.2,1146.9 1044.2,1139.8 1045.1,1154.2 1046.1,1148.2 1047.0,1143.7 1048.0,1156.9 1048.9,1148.1 1049.9,1145.2 1050.8,1156.7 1051.8,1162.2 1052.7,1161.7 1053.7,1144.3 1054.6,1157.6 1055.6,1164.8 1056.5,1134.0 1057.5,1162.2 1058.4,1151.0 1059.4,1152.3 1060.3,1142.6 1061.3,1155.4 1062.2,1146.6 1063.2,1150.8 1064.1,1152.7 1065.1,1158.5 1066.0,1144.4 1067.0,1156.0 1067.9,1166.7 1068.9,1140.2 1069.8,1152.9 1070.8,1148.0 1071.7,1149.3 1072.7,1150.5 1073.6,1154.7 1074.6,1156.6 1075.5,1150.9 1076.5,1155.5 1077.4,1152.2 1078.4,1155.3 1079.3,1149.6 1080.3,1158.7 1081.2,1152.0 1082.2,1153.1 1083.1,1170.7 1084.1,1162.1 1085.0,1150.1 1086.0,1156.8 1086.9,1146.8 1087.9,1154.2 1088.8,1156.8 1089.8,1159.7 1090.8,1143.2 1091.7,1171.9 1092.7,1153.1 1093.6,1151.0 1094.6,1152.9 1095.5,1149.4 1096.5,1153.2 1097.4,1153.8 1098.4,1152.2 1099.3,1159.2 1100.3,1160.8 1101.2,1158.6 1102.2,1138.2 1103.1,1153.3 1104.1,1150.4 1105.0,1157.6 1106.0,1168.5 1106.9,1164.0 1107.9,1148.3 1108.8,1158.6 1109.8,1158.6 1110.7,1140.7 1111.7,1164.0 1112.6,1158.6 1113.6,1165.8 1114.5,1161.2 1115.5,1154.3 1116.4,1152.1 1117.4,1162.9 1118.3,1159.7 1119.3,1166.1 1120.2,1153.8 1121.2,1158.6 1122.1,1156.2 1123.1,1158.9 1124.0,1152.0 1125.0,1161.6 1125.9,1156.0 1126.9,1153.1 1127.8,1154.7 1128.8,1165.5 1129.7,1156.8 1130.7,1153.8 1131.6,1155.7 1132.6,1161.3 1133.5,1156.0 1134.5,1155.6 1135.4,1156.0 1136.4,1145.9 1137.3,1160.8 1138.3,1175.4 1139.2,1155.1 1140.2,1155.6 1141.1,1146.7 1142.1,1158.7 1143.0,1160.8 1144.0,1152.8 1144.9,1166.8 1145.9,1136.9 1146.8,1156.7 1147.8,1156.8 1148.7,1146.2 1149.7,1153.5 1150.6,1166.6 1151.6,1154.9 1152.5,1161.7 1153.5,1155.6 1154.4,1155.0 1155.4,1159.6 1156.3,1155.5 1157.3,1155.2 1158.2,1160.0 1159.2,1158.6 1160.2,1156.3 1161.1,1153.1 1162.1,1152.9 1163.0,1153.3 1164.0,1152.8 1164.9,1154.6 1165.9,1161.1 1166.8,1154.9 1167.8,1149.0 1168.7,1147.9 1169.7,1160.8 1170.6,1154.9 1171.6,1164.7 1172.5,1158.7 1173.5,1153.9 1174.4,1168.6 1175.4,1135.3 1176.3,1153.9 1177.3,1156.9 1178.2,1153.0 1179.2,1158.7 1180.1,1157.0 1181.1,1153.7 1182.0,1163.2 1183.0,1156.5 1183.9,1160.3 1184.9,1172.4 1185.8,1150.9 1186.8,1156.7 1187.7,1154.5 1188.7,1156.6 1189.6,1168.4 1190.6,1159.6 1191.5,1157.8 1192.5,1171.9 1193.4,1153.4 1194.4,1150.2 1195.3,1149.0 1196.3,1144.7 1197.2,1152.3 1198.2,1162.2 1199.1,1135.7 1200.1,1149.0 1201.0,1147.8 1202.0,1162.2 1202.9,1172.2 1203.9,1158.6 1204.8,1150.9 1205.8,1162.6 1206.7,1163.9 1207.7,1155.8 1208.6,1145.8 1209.6,1160.3 1210.5,1139.7 1211.5,1154.0 1212.4,1170.4 1213.4,1143.0 1214.3,1155.7 1215.3,1145.9 1216.2,1151.2 1217.2,1142.4 1218.1,1154.9 1219.1,1156.2 1220.0,1157.2 1221.0,1141.2 1221.9,1146.4 1222.9,1156.6 1223.8,1158.9 1224.8,1152.8 1225.7,1156.4 1226.7,1153.1 1227.7,1148.1 1228.6,1152.7 1229.6,1169.9 1230.5,1153.6 1231.5,1163.0 1232.4,1158.6 1233.4,1160.9 1234.3,1158.7 1235.3,1158.8 1236.2,1142.0 1237.2,1144.1 1238.1,1162.8 1239.1,1161.5 1240.0,1156.5 1241.0,1161.0 1241.9,1161.1 1242.9,1155.0 1243.8,1145.7 1244.8,1168.4 1245.7,1154.0 1246.7,1155.7 1247.6,1160.8 1248.6,1154.6 1249.5,1157.2 1250.5,1148.1 1251.4,1166.9 1252.4,1166.2 1253.3,1157.9 1254.3,1161.5 1255.2,1155.1 1256.2,1141.8 1257.1,1157.4 1258.1,1171.9 1259.0,1155.3 1260.0,1155.0 1260.9,1154.5 1261.9,1145.2 1262.8,1153.4 1263.8,1155.8 1264.7,1155.6 1265.7,1157.0 1266.6,1163.2 1267.6,1143.8 1268.5,1156.4 1269.5,1154.5 1270.4,1155.5 1271.4,1157.3 1272.3,1172.0 1273.3,1170.1 1274.2,1151.0 1275.2,1159.3 1276.1,1157.2 1277.1,1154.8 1278.0,1156.5 1279.0,1157.0 1279.9,1149.8 1280.9,1174.2 1281.8,1167.5 1282.8,1166.7 1283.7,1146.9 1284.7,1151.1 1285.6,1167.3 1286.6,1139.9 1287.5,1151.0 1288.5,1175.0 1289.4,1150.9 1290.4,1163.4 1291.3,1143.5 1292.3,1158.6 1293.2,1150.7 1294.2,1154.7 1295.2,1154.3 1296.1,1162.2 1297.1,1165.0 1298.0,1173.7 1299.0,1145.0 1299.9,1171.5 1300.9,1150.5 1301.8,1156.0 1302.8,1154.5 1303.7,1160.1 1304.7,1151.2 1305.6,1159.7 1306.6,1171.2 1307.5,1136.2 1308.5,1171.0 1309.4,1152.3 1310.4,1169.3 1311.3,1155.6 1312.3,1176.6 1313.2,1148.5 1314.2,1159.1 1315.1,1155.7 1316.1,1151.6 1317.0,1153.4 1318.0,1158.2 1318.9,1178.3 1319.9,1173.7 1320.8,1157.3 1321.8,1156.1 1322.7,1156.1 1323.7,1156.7 1324.6,1146.9 1325.6,1165.6 1326.5,1157.0 1327.5,1160.6 1328.4,1158.4 1329.4,1175.2 1330.3,1148.7 1331.3,1180.4 1332.2,1160.1 1333.2,1157.7 1334.1,1155.1 1335.1,1147.4 1336.0,1163.0 1337.0,1157.4 1337.9,1178.3 1338.9,1162.9 1339.8,1164.9 1340.8,1154.6 1341.7,1158.0 1342.7,1153.8 1343.6,1159.8 1344.6,1158.7 1345.5,1168.0 1346.5,1168.0 1347.4,1156.9 1348.4,1151.5 1349.3,1161.2 1350.3,1150.9 1351.2,1155.7 1352.2,1170.2 1353.1,1161.1 1354.1,1156.0 1355.0,1158.3 1356.0,1159.3 1356.9,1156.8 1357.9,1154.1 1358.8,1155.1 1359.8,1160.9 1360.7,1158.6 1361.7,1153.1 1362.7,1155.7 1363.6,1160.2 1364.6,1157.5 1365.5,1154.3 1366.5,1152.7 1367.4,1167.8 1368.4,1163.8 1369.3,1156.5 1370.3,1140.5 1371.2,1153.7 1372.2,1160.8 1373.1,1139.8 1374.1,1154.9 1375.0,1148.2 1376.0,1154.4 1376.9,1164.7 1377.9,1166.6 1378.8,1157.3 1379.8,1160.8 1380.7,1144.3 1381.7,1150.1 1382.6,1157.7 1383.6,1168.1 1384.5,1154.5 1385.5,1161.7 1386.4,1153.3 1387.4,1150.5 1388.3,1172.4 1389.3,1158.0 1390.2,1165.1 1391.2,1153.3 1392.1,1156.6 1393.1,1161.3 1394.0,1167.3 1395.0,1153.9 1395.9,1154.9 1396.9,1161.5 1397.8,1157.6 1398.8,1163.9 1399.7,1164.3 1400.7,1157.3 1401.6,1158.5 1402.6,1173.7 1403.5,1155.6 1404.5,1146.5 1405.4,1148.2 1406.4,1149.9 1407.3,1162.7 1408.3,1153.9 1409.2,1159.0 1410.2,1165.9 1411.1,1160.2 1412.1,1165.2 1413.0,1156.7 1414.0,1158.4 1414.9,1152.8 1415.9,1152.3 1416.8,1153.3 1417.8,1149.7 1418.7,1153.2 1419.7,1154.2 1420.6,1150.6 1421.6,1151.2 1422.5,1152.1 1423.5,1159.0 1424.4,1159.8 1425.4,1137.3 1426.3,1158.3 1427.3,1153.3 1428.2,1149.2 1429.2,1164.1 1430.2,1150.1 1431.1,1149.7 1432.1,1146.8 1433.0,1152.9 1434.0,1152.9 1434.9,1149.2 1435.9,1153.8 1436.8,1143.8 1437.8,1150.7 1438.7,1151.4 1439.7,1153.8 1440.6,1135.9 1441.6,1155.7 1442.5,1141.3 1443.5,1157.5 1444.4,1146.3 1445.4,1150.1 1446.3,1155.3 1447.3,1133.2 1448.2,1153.2 1449.2,1157.6 1450.1,1145.5 1451.1,1158.6 1452.0,1156.8 1453.0,1161.8 1453.9,1166.2 1454.9,1160.5 1455.8,1146.6 1456.8,1153.2 1457.7,1158.9 1458.7,1143.5 1459.6,1154.8 1460.6,1158.8 1461.5,1162.3 1462.5,1168.0 1463.4,1159.5 1464.4,1164.2 1465.3,1152.2 1466.3,1155.7 1467.2,1169.0 1468.2,1159.9 1469.1,1152.3 1470.1,1162.2 1471.0,1160.3 1472.0,1169.0 1472.9,1160.0 1473.9,1147.1 1474.8,1162.0 1475.8,1152.8 1476.7,1156.9 1477.7,1160.3 1478.6,1154.3 1479.6,1150.8 1480.5,1156.7 1481.5,1146.3 1482.4,1156.9 1483.4,1166.6 1484.3,1164.6 1485.3,1145.3 1486.2,1160.0 1487.2,1158.2 1488.1,1155.4 1489.1,1159.2 1490.0,1159.3 1491.0,1161.8 1491.9,1169.0 1492.9,1155.0 1493.8,1158.1 1494.8,1149.2 1495.7,1160.0 1496.7,1155.1 1497.6,1162.3 1498.6,1143.7 1499.6,1156.6 1500.5,1157.8 1501.5,1166.8 1502.4,1158.4 1503.4,1170.9 1504.3,1156.9 1505.3,1153.8 1506.2,1158.9 1507.2,1154.4 1508.1,1159.0 1509.1,1158.3 1510.0,1140.8 1511.0,1169.6 1511.9,1157.9 1512.9,1156.1 1513.8,1159.2 1514.8,1164.0 1515.7,1149.2 1516.7,1170.4 1517.6,1138.6 1518.6,1164.3 1519.5,1152.0 1520.5,1160.0 1521.4,1164.6 1522.4,1160.0 1523.3,1169.3 1524.3,1150.1 1525.2,1156.8 1526.2,1153.0 1527.1,1165.2 1528.1,1158.1 1529.0,1157.3 1530.0,1160.8 1530.9,1163.0 1531.9,1147.4 1532.8,1156.0 1533.8,1160.5 1534.7,1176.3 1535.7,1158.0 1536.6,1162.1 1537.6,1156.5 1538.5,1161.7 1539.5,1164.0 1540.4,1161.4 1541.4,1149.3 1542.3,1161.6 1543.3,1163.0 1544.2,1171.9 1545.2,1161.7 1546.1,1159.4 1547.1,1164.7 1548.0,1168.1 1549.0,1162.2 1549.9,1164.1 1550.9,1164.0 1551.8,1158.4 1552.8,1159.2 1553.7,1165.7 1554.7,1164.3 1555.6,1160.3 1556.6,1172.4 1557.5,1148.7 1558.5,1165.8 1559.4,1166.1 1560.4,1149.3 1561.3,1139.1 1562.3,1153.7 1563.2,1153.7 1564.2,1157.3 1565.1,1159.6 1566.1,1163.0 1567.1,1154.0 1568.0,1150.8 1569.0,1142.5 1569.9,1157.3 1570.9,1158.9 1571.8,1165.1 1572.8,1149.4 1573.7,1163.6 1574.7,1158.8 1575.6,1173.1 1576.6,1163.3 1577.5,1159.6 1578.5,1153.8 1579.4,1156.2 1580.4,1159.5 1581.3,1154.4 1582.3,1155.2 1583.2,1164.7 1584.2,1156.6 1585.1,1163.3 1586.1,1173.0 1587.0,1151.8 1588.0,1162.8 1588.9,1157.7 1589.9,1159.8 1590.8,1155.5 1591.8,1161.2 1592.7,1159.6 1593.7,1157.4 1594.6,1161.3 1595.6,1163.0 1596.5,1164.1 1597.5,1159.0 1598.4,1168.5 1599.4,1160.6 1600.3,1168.0 1601.3,1152.0 1602.2,1167.7 1603.2,1167.5 1604.1,1158.2 1605.1,1167.0 1606.0,1160.7 1607.0,1164.2 1607.9,1158.0 1608.9,1157.0 1609.8,1159.1 1610.8,1159.9 1611.7,1176.5 1612.7,1162.4 1613.6,1163.1 1614.6,1172.6 1615.5,1163.0 1616.5,1161.0 1617.4,1156.0 1618.4,1173.9 1619.3,1159.2 1620.3,1175.2 1621.2,1157.0 1622.2,1166.8 1623.1,1165.2 1624.1,1160.3 1625.0,1147.4 1626.0,1165.5 1626.9,1169.1 1627.9,1163.7 1628.8,1179.1 1629.8,1162.0 1630.7,1167.4 1631.7,1161.5 1632.6,1171.0 1633.6,1158.0 1634.6,1162.6 1635.5,1161.6 1636.5,1166.7 1637.4,1159.0 1638.4,1162.8 1639.3,1156.2 1640.3,1162.8 1641.2,1165.8 1642.2,1166.4 1643.1,1160.0 1644.1,1144.5 1645.0,1161.4 1646.0,1162.6 1646.9,1160.2 1647.9,1160.7 1648.8,1164.1 1649.8,1165.0 1650.7,1159.2 1651.7,1161.8 1652.6,1161.3 1653.6,1158.0 1654.5,1163.9 1655.5,1165.7 1656.4,1165.2 1657.4,1161.2 1658.3,1168.5 1659.3,1172.1 1660.2,1162.1 1661.2,1163.6 1662.1,1168.1 1663.1,1163.2 1664.0,1169.2 1665.0,1170.7 1665.9,1165.1 1666.9,1159.9 1667.8,1165.6 1668.8,1170.3 1669.7,1161.9 1670.7,1162.0 1671.6,1160.8 1672.6,1163.5 1673.5,1164.6 1674.5,1162.2 1675.4,1173.4 1676.4,1166.2 1677.3,1169.2 1678.3,1181.6 1679.2,1162.8 1680.2,1173.4 1681.1,1181.9 1682.1,1165.5 1683.0,1172.7 1684.0,1163.4 1684.9,1168.2 1685.9,1164.4 1686.8,1178.7 1687.8,1172.9 1688.7,1166.2 1689.7,1165.3 1690.6,1168.1 1691.6,1167.8 1692.5,1169.7 1693.5,1160.3 1694.4,1166.0 1695.4,1165.3 1696.3,1165.0 1697.3,1167.0 1698.2,1159.7 1699.2,1163.9 1700.1,1169.7 1701.1,1164.0 1702.1,1166.5 1703.0,1167.9 1704.0,1159.6 1704.9,1171.8 1705.9,1168.9 1706.8,1167.2 1707.8,1156.5 1708.7,1168.9 1709.7,1165.1 1710.6,1173.7 1711.6,1158.7 1712.5,1168.5 1713.5,1161.2 1714.4,1162.1 1715.4,1159.3 1716.3,1170.5 1717.3,1165.9 1718.2,1167.4 1719.2,1160.0 1720.1,1169.5 1721.1,1158.0 1722.0,1172.6 1723.0,1173.4 1723.9,1169.0 1724.9,1168.0 1725.8,1168.8 1726.8,1167.1 1727.7,1166.3 1728.7,1167.5 1729.6,1168.3 1730.6,1164.4 1731.5,1166.1 1732.5,1175.0 1733.4,1165.4 1734.4,1165.8 1735.3,1169.3 1736.3,1171.2 1737.2,1165.8 1738.2,1161.3 1739.1,1167.1 1740.1,1163.4 1741.0,1148.5 1742.0,1169.0 1742.9,1170.5 1743.9,1166.4 1744.8,1185.2 1745.8,1184.9 1746.7,1160.6 1747.7,1167.7 1748.6,1171.5 1749.6,1166.8 1750.5,1165.5 1751.5,1162.8 1752.4,1175.6 1753.4,1165.1 1754.3,1170.4 1755.3,1168.7 1756.2,1161.6 1757.2,1171.5 1758.1,1165.1 1759.1,1169.7 1760.0,1170.2 1761.0,1167.2 1761.9,1175.4 1762.9,1174.1 1763.8,1167.9 1764.8,1171.8 1765.7,1173.7 1766.7,1176.0 1767.6,1153.4 1768.6,1177.1 1769.6,1164.8 1770.5,1163.6 1771.5,1171.4 1772.4,1171.9 1773.4,1175.8 1774.3,1149.1 1775.3,1168.8 1776.2,1171.5 1777.2,1162.1 1778.1,1173.3 1779.1,1151.9 1780.0,1170.4 1781.0,1170.0 1781.9,1170.1 1782.9,1172.6 1783.8,1172.5 1784.8,1176.0 1785.7,1165.6 1786.7,1176.5 1787.6,1162.8 1788.6,1181.9 1789.5,1168.8 1790.5,1186.1 1791.4,1171.8 1792.4,1167.3 1793.3,1154.7 1794.3,1174.8 1795.2,1161.5 1796.2,1168.1 1797.1,1178.2 1798.1,1175.9 1799.0,1172.7 1800.0,1170.0 1800.9,1172.3 1801.9,1166.9 1802.8,1170.5 1803.8,1175.1 1804.7,1170.3 1805.7,1158.8 1806.6,1175.2 1807.6,1180.5 1808.5,1182.9 1809.5,1167.5 1810.4,1166.4 1811.4,1171.5 1812.3,1170.9 1813.3,1177.6 1814.2,1179.5 1815.2,1177.4 1816.1,1169.0 1817.1,1177.5 1818.0,1164.8 1819.0,1172.2 1819.9,1165.1 1820.9,1181.5 1821.8,1155.5 1822.8,1172.5 1823.7,1171.3 1824.7,1182.8 1825.6,1165.8 1826.6,1176.6 1827.5,1162.8 1828.5,1171.3 1829.4,1166.8 1830.4,1170.8 1831.3,1172.8 1832.3,1165.6 1833.2,1172.3 1834.2,1167.1 1835.1,1158.6 1836.1,1173.8 1837.0,1164.2 1838.0,1160.9 1839.0,1170.4 1839.9,1173.0 1840.9,1171.9 1841.8,1177.0 1842.8,1185.8 1843.7,1171.9 1844.7,1169.7 1845.6,1173.8 1846.6,1171.4 1847.5,1164.2 1848.5,1171.4 1849.4,1162.0 1850.4,1179.1 1851.3,1180.5 1852.3,1168.3 1853.2,1175.1 1854.2,1165.9 1855.1,1169.9 1856.1,1172.7 1857.0,1172.8 1858.0,1172.9 1858.9,1168.9 1859.9,1173.1 1860.8,1170.5 1861.8,1166.9 1862.7,1173.8 1863.7,1160.0 1864.6,1160.0 1865.6,1166.5 1866.5,1175.6 1867.5,1167.7 1868.4,1160.6 1869.4,1177.7 1870.3,1178.5 1871.3,1163.1 1872.2,1169.5 1873.2,1172.2 1874.1,1181.9 1875.1,1171.3 1876.0,1179.0 1877.0,1179.5 1877.9,1180.3 1878.9,1170.7 1879.8,1185.0 1880.8,1173.8 1881.7,1170.3 1882.7,1168.1 1883.6,1174.3 1884.6,1173.5 1885.5,1167.2 1886.5,1176.3 1887.4,1170.4 1888.4,1175.2 1889.3,1169.8 1890.3,1166.5 1891.2,1172.1 1892.2,1179.2 1893.1,1164.4 1894.1,1177.0 1895.0,1186.2 1896.0,1169.6 1896.9,1171.3 1897.9,1174.4 1898.8,1153.2 1899.8,1161.7 1900.7,1174.4 1901.7,1163.6 1902.6,1188.1 1903.6,1165.3 1904.5,1172.1 1905.5,1178.3 1906.5,1174.8 1907.4,1176.0 1908.4,1181.1 1909.3,1159.5 1910.3,1167.0 1911.2,1184.9 1912.2,1171.3 1913.1,1175.8 1914.1,1171.9 1915.0,1163.3 1916.0,1172.2 1916.9,1189.1 1917.9,1175.8 1918.8,1173.4 1919.8,1167.0 1920.7,1177.8 1921.7,1165.1 1922.6,1175.8 1923.6,1173.4 1924.5,1168.3 1925.5,1177.5 1926.4,1183.0 1927.4,1175.1"/>
<polyline fill="none" stroke="#000000" stroke-width="6.0" stroke-linejoin="bevel" stroke-linecap="butt" points="343.5,1251.0 344.5,1237.1 345.4,1246.2 346.4,1254.7 347.3,1242.1 348.3,1238.2 349.2,1249.7 350.2,1243.0 351.1,1253.1 352.1,1258.8 353.0,1251.8 354.0,1267.4 354.9,1249.3 355.9,1247.9 356.8,1252.6 357.8,1242.7 358.7,1256.1 359.7,1240.1 360.6,1243.6 361.6,1256.5 362.5,1254.2 363.5,1248.9 364.4,1247.4 365.4,1252.8 366.3,1242.5 367.3,1244.8 368.2,1277.4 369.2,1252.8 370.1,1244.3 371.1,1252.0 372.0,1260.0 373.0,1245.0 373.9,1257.4 374.9,1256.0 375.8,1257.1 376.8,1259.6 377.7,1248.7 378.7,1250.8 379.6,1261.8 380.6,1257.7 381.5,1256.0 382.5,1281.5 383.4,1283.8 384.4,1252.9 385.3,1266.8 386.3,1240.0 387.2,1251.5 388.2,1214.2 389.1,1253.5 390.1,1248.8 391.0,1261.0 392.0,1216.2 392.9,1249.6 393.9,1246.7 394.8,1221.6 395.8,1255.6 396.7,1245.4 397.7,1238.2 398.6,1244.5 399.6,1238.2 400.5,1220.1 401.5,1235.0 402.4,1228.3 403.4,1247.5 404.3,1271.6 405.3,1227.3 406.2,1243.5 407.2,1243.1 408.1,1250.3 409.1,1238.0 410.0,1258.1 411.0,1243.6 412.0,1259.7 412.9,1227.7 413.9,1242.9 414.8,1218.9 415.8,1239.7 416.7,1245.2 417.7,1237.6 418.6,1252.8 419.6,1253.1 420.5,1234.7 421.5,1214.7 422.4,1262.5 423.4,1263.3 424.3,1252.3 425.3,1245.0 426.2,1268.0 427.2,1239.2 428.1,1246.3 429.1,1247.2 430.0,1242.8 431.0,1243.7 431.9,1252.2 432.9,1250.9 433.8,1254.5 434.8,1239.3 435.7,1240.9 436.7,1271.0 437.6,1261.8 438.6,1251.0 439.5,1248.1 440.5,1254.9 441.4,1265.7 442.4,1277.4 443.3,1232.1 444.3,1251.1 445.2,1254.2 446.2,1247.8 447.1,1247.8 448.1,1246.2 449.0,1247.6 450.0,1248.5 450.9,1262.5 451.9,1234.9 452.8,1249.2 453.8,1249.7 454.7,1250.9 455.7,1237.2 456.6,1273.8 457.6,1255.7 458.5,1251.9 459.5,1257.7 460.4,1243.5 461.4,1256.6 462.3,1249.3 463.3,1260.5 464.2,1258.7 465.2,1254.0 466.1,1275.3 467.1,1252.5 468.0,1253.4 469.0,1256.7 469.9,1261.0 470.9,1247.1 471.8,1273.6 472.8,1259.7 473.7,1250.1 474.7,1249.5 475.6,1261.2 476.6,1254.0 477.5,1285.3 478.5,1260.8 479.5,1264.0 480.4,1256.2 481.4,1256.2 482.3,1255.9 483.3,1255.1 484.2,1250.6 485.2,1270.5 486.1,1259.8 487.1,1270.7 488.0,1252.8 489.0,1255.1 489.9,1267.6 490.9,1266.5 491.8,1262.8 492.8,1257.2 493.7,1265.3 494.7,1267.6 495.6,1264.4 496.6,1261.7 497.5,1272.0 498.5,1264.9 499.4,1259.6 500.4,1263.4 501.3,1273.1 502.3,1265.0 503.2,1260.8 504.2,1267.2 505.1,1268.7 506.1,1258.1 507.0,1271.7 508.0,1253.7 508.9,1258.2 509.9,1269.3 510.8,1260.3 511.8,1284.9 512.7,1264.9 513.7,1254.4 514.6,1271.0 515.6,1264.0 516.5,1270.1 517.5,1271.7 518.4,1265.7 519.4,1280.2 520.3,1271.7 521.3,1284.3 522.2,1259.9 523.2,1262.5 524.1,1272.6 525.1,1274.8 526.0,1287.0 527.0,1255.9 527.9,1266.9 528.9,1273.5 529.8,1282.1 530.8,1272.1 531.7,1277.6 532.7,1271.3 533.6,1246.6 534.6,1281.6 535.5,1278.2 536.5,1278.3 537.4,1280.7 538.4,1268.3 539.3,1270.7 540.3,1260.3 541.2,1256.7 542.2,1275.3 543.1,1277.6 544.1,1263.6 545.0,1301.4 546.0,1283.1 546.9,1275.7 547.9,1278.9 548.9,1291.2 549.8,1267.2 550.8,1276.0 551.7,1282.1 552.7,1281.3 553.6,1287.1 554.6,1300.2 555.5,1288.7 556.5,1283.3 557.4,1282.2 558.4,1291.0 559.3,1271.8 560.3,1277.6 561.2,1287.6 562.2,1287.0 563.1,1289.1 564.1,1293.7 565.0,1280.8 566.0,1305.7 566.9,1304.3 567.9,1293.3 568.8,1285.2 569.8,1278.0 570.7,1297.8 571.7,1272.4 572.6,1294.9 573.6,1281.2 574.5,1286.2 575.5,1305.2 576.4,1276.6 577.4,1307.9 578.3,1295.9 579.3,1287.5 580.2,1302.2 581.2,1302.8 582.1,1290.4 583.1,1297.2 584.0,1302.8 585.0,1304.5 585.9,1295.6 586.9,1299.8 587.8,1300.4 588.8,1296.3 589.7,1294.9 590.7,1312.5 591.6,1295.3 592.6,1301.1 593.5,1295.3 594.5,1308.7 595.4,1292.2 596.4,1303.9 597.3,1310.5 598.3,1289.8 599.2,1297.9 600.2,1292.7 601.1,1297.9 602.1,1294.3 603.0,1302.9 604.0,1294.6 604.9,1295.8 605.9,1308.2 606.8,1290.1 607.8,1285.6 608.7,1296.0 609.7,1286.0 610.6,1291.5 611.6,1294.6 612.5,1307.6 613.5,1287.8 614.4,1297.1 615.4,1295.9 616.4,1303.5 617.3,1309.0 618.3,1302.1 619.2,1294.5 620.2,1282.2 621.1,1290.6 622.1,1306.1 623.0,1295.7 624.0,1284.3 624.9,1272.7 625.9,1289.5 626.8,1294.5 627.8,1280.9 628.7,1288.3 629.7,1294.8 630.6,1290.9 631.6,1285.1 632.5,1294.3 633.5,1294.1 634.4,1287.6 635.4,1297.8 636.3,1272.2 637.3,1291.7 638.2,1292.3 639.2,1288.0 640.1,1290.0 641.1,1286.7 642.0,1284.7 643.0,1286.6 643.9,1284.2 644.9,1276.3 645.8,1284.6 646.8,1291.8 647.7,1263.9 648.7,1282.5 649.6,1287.6 650.6,1280.7 651.5,1282.9 652.5,1283.7 653.4,1282.9 654.4,1276.9 655.3,1279.5 656.3,1280.8 657.2,1277.8 658.2,1263.6 659.1,1278.7 660.1,1274.7 661.0,1281.5 662.0,1282.3 662.9,1282.8 663.9,1282.0 664.8,1302.8 665.8,1282.8 666.7,1296.8 667.7,1302.3 668.6,1281.5 669.6,1277.0 670.5,1284.5 671.5,1281.3 672.4,1260.8 673.4,1278.6 674.3,1293.4 675.3,1282.3 676.2,1279.1 677.2,1271.0 678.1,1274.9 679.1,1292.7 680.0,1280.0 681.0,1273.2 681.9,1278.4 682.9,1261.5 683.9,1285.3 684.8,1281.4 685.8,1277.8 686.7,1279.8 687.7,1287.0 688.6,1262.4 689.6,1278.9 690.5,1287.3 691.5,1260.1 692.4,1282.9 693.4,1278.4 694.3,1262.3 695.3,1281.6 696.2,1272.7 697.2,1268.7 698.1,1277.9 699.1,1285.7 700.0,1285.4 701.0,1281.0 701.9,1275.7 702.9,1282.8 703.8,1280.9 704.8,1289.4 705.7,1262.4 706.7,1286.2 707.6,1276.3 708.6,1274.5 709.5,1298.9 710.5,1284.6 711.4,1282.6 712.4,1273.9 713.3,1281.6 714.3,1262.5 715.2,1283.2 716.2,1303.2 717.1,1278.6 718.1,1281.5 719.0,1272.8 720.0,1283.2 720.9,1289.4 721.9,1279.9 722.8,1279.4 723.8,1270.4 724.7,1274.3 725.7,1290.3 726.6,1276.4 727.6,1295.4 728.5,1293.1 729.5,1285.9 730.4,1298.1 731.4,1289.8 732.3,1282.4 733.3,1297.0 734.2,1299.3 735.2,1269.5 736.1,1281.6 737.1,1301.8 738.0,1284.6 739.0,1287.5 739.9,1295.4 740.9,1289.7 741.8,1293.4 742.8,1280.7 743.7,1285.2 744.7,1289.7 745.6,1276.9 746.6,1276.5 747.5,1288.4 748.5,1286.6 749.4,1273.0 750.4,1288.8 751.4,1291.8 752.3,1290.7 753.3,1311.3 754.2,1296.5 755.2,1271.6 756.1,1295.3 757.1,1306.7 758.0,1307.8 759.0,1291.7 759.9,1291.4 760.9,1290.0 761.8,1294.9 762.8,1282.6 763.7,1293.4 764.7,1308.6 765.6,1289.0 766.6,1299.4 767.5,1299.2 768.5,1290.7 769.4,1306.4 770.4,1302.9 771.3,1304.0 772.3,1306.7 773.2,1299.9 774.2,1297.7 775.1,1311.4 776.1,1301.3 777.0,1296.7 778.0,1297.1 778.9,1315.0 779.9,1307.3 780.8,1309.0 781.8,1309.2 782.7,1311.1 783.7,1318.2 784.6,1308.7 785.6,1308.1 786.5,1312.8 787.5,1310.7 788.4,1304.0 789.4,1313.9 790.3,1312.4 791.3,1319.9 792.2,1323.9 793.2,1311.6 794.1,1315.5 795.1,1297.7 796.0,1315.0 797.0,1323.6 797.9,1314.9 798.9,1326.5 799.8,1305.8 800.8,1322.3 801.7,1317.8 802.7,1325.1 803.6,1320.2 804.6,1321.6 805.5,1314.7 806.5,1334.5 807.4,1320.3 808.4,1321.8 809.3,1332.6 810.3,1319.9 811.2,1335.1 812.2,1324.5 813.1,1337.0 814.1,1344.9 815.0,1333.3 816.0,1329.2 816.9,1323.0 817.9,1342.0 818.9,1321.3 819.8,1324.2 820.8,1323.1 821.7,1331.5 822.7,1325.2 823.6,1331.5 824.6,1331.1 825.5,1321.8 826.5,1331.2 827.4,1330.0 828.4,1330.9 829.3,1329.9 830.3,1338.7 831.2,1334.2 832.2,1323.9 833.1,1343.1 834.1,1337.7 835.0,1339.4 836.0,1330.7 836.9,1338.1 837.9,1337.9 838.8,1325.4 839.8,1346.2 840.7,1351.4 841.7,1334.8 842.6,1332.2 843.6,1347.2 844.5,1339.9 845.5,1340.7 846.4,1355.6 847.4,1343.3 848.3,1336.2 849.3,1330.9 850.2,1344.5 851.2,1348.5 852.1,1343.4 853.1,1344.9 854.0,1338.7 855.0,1338.4 855.9,1338.5 856.9,1352.4 857.8,1343.7 858.8,1347.0 859.7,1335.2 860.7,1346.8 861.6,1319.9 862.6,1344.0 863.5,1348.3 864.5,1347.7 865.4,1349.4 866.4,1342.7 867.3,1342.5 868.3,1349.2 869.2,1353.5 870.2,1330.3 871.1,1331.4 872.1,1348.7 873.0,1346.7 874.0,1349.2 874.9,1345.7 875.9,1347.4 876.8,1351.6 877.8,1353.0 878.7,1348.0 879.7,1335.6 880.6,1335.0 881.6,1346.2 882.5,1349.6 883.5,1368.6 884.4,1353.8 885.4,1357.6 886.3,1351.0 887.3,1347.7 888.3,1355.7 889.2,1345.2 890.2,1348.1 891.1,1365.2 892.1,1341.4 893.0,1357.8 894.0,1354.0 894.9,1348.8 895.9,1336.8 896.8,1342.7 897.8,1353.2 898.7,1344.7 899.7,1353.4 900.6,1342.0 901.6,1355.0 902.5,1342.4 903.5,1349.8 904.4,1356.1 905.4,1349.2 906.3,1343.3 907.3,1355.4 908.2,1346.6 909.2,1359.7 910.1,1350.8 911.1,1352.7 912.0,1361.7 913.0,1354.1 913.9,1360.1 914.9,1358.9 915.8,1353.2 916.8,1345.6 917.7,1353.1 918.7,1351.5 919.6,1354.7 920.6,1350.2 921.5,1361.4 922.5,1357.8 923.4,1354.8 924.4,1355.1 925.3,1357.0 926.3,1360.2 927.2,1352.3 928.2,1342.3 929.1,1345.2 930.1,1370.8 931.0,1361.1 932.0,1344.3 932.9,1362.8 933.9,1355.7 934.8,1353.8 935.8,1352.5 936.7,1350.0 937.7,1356.6 938.6,1362.7 939.6,1365.8 940.5,1354.5 941.5,1359.5 942.4,1362.2 943.4,1343.6 944.3,1364.5 945.3,1363.8 946.2,1365.8 947.2,1365.4 948.1,1374.3 949.1,1355.6 950.0,1362.1 951.0,1375.6 951.9,1370.3 952.9,1355.4 953.8,1356.1 954.8,1368.4 955.8,1345.2 956.7,1354.6 957.7,1357.0 958.6,1379.7 959.6,1360.3 960.5,1355.2 961.5,1374.1 962.4,1369.7 963.4,1358.3 964.3,1374.3 965.3,1345.6 966.2,1356.6 967.2,1355.8 968.1,1347.0 969.1,1357.6 970.0,1357.4 971.0,1355.1 971.9,1356.4 972.9,1361.6 973.8,1355.0 974.8,1371.5 975.7,1363.1 976.7,1353.1 977.6,1367.9 978.6,1377.6 979.5,1356.4 980.5,1358.1 981.4,1365.9 982.4,1360.3 983.3,1354.9 984.3,1347.0 985.2,1346.2 986.2,1358.4 987.1,1358.8 988.1,1362.6 989.0,1346.0 990.0,1364.5 990.9,1363.5 991.9,1359.5 992.8,1361.1 993.8,1351.0 994.7,1360.8 995.7,1372.9 996.6,1357.8 997.6,1359.5 998.5,1364.2 999.5,1358.3 1000.4,1358.7 1001.4,1366.6 1002.3,1370.8 1003.3,1365.5 1004.2,1363.1 1005.2,1380.6 1006.1,1365.3 1007.1,1355.2 1008.0,1364.6 1009.0,1367.1 1009.9,1375.7 1010.9,1381.5 1011.8,1357.4 1012.8,1353.0 1013.7,1363.3 1014.7,1365.9 1015.6,1364.5 1016.6,1363.0 1017.5,1369.7 1018.5,1364.9 1019.4,1373.3 1020.4,1369.9 1021.3,1372.9 1022.3,1377.4 1023.3,1373.1 1024.2,1369.6 1025.2,1364.0 1026.1,1361.7 1027.1,1373.8 1028.0,1364.9 1029.0,1368.1 1029.9,1365.0 1030.9,1366.2 1031.8,1370.1 1032.8,1367.6 1033.7,1366.4 1034.7,1361.8 1035.6,1365.3 1036.6,1379.1 1037.5,1366.0 1038.5,1377.9 1039.4,1371.9 1040.4,1366.1 1041.3,1369.2 1042.3,1376.8 1043.2,1379.1 1044.2,1360.3 1045.1,1357.5 1046.1,1361.9 1047.0,1364.6 1048.0,1356.8 1048.9,1357.3 1049.9,1361.9 1050.8,1364.6 1051.8,1366.1 1052.7,1364.9 1053.7,1367.3 1054.6,1347.7 1055.6,1361.8 1056.5,1362.5 1057.5,1372.6 1058.4,1367.2 1059.4,1370.2 1060.3,1366.2 1061.3,1376.2 1062.2,1363.3 1063.2,1381.9 1064.1,1362.1 1065.1,1369.9 1066.0,1362.7 1067.0,1364.8 1067.9,1363.3 1068.9,1359.6 1069.8,1355.1 1070.8,1362.4 1071.7,1363.1 1072.7,1355.5 1073.6,1368.7 1074.6,1362.3 1075.5,1358.4 1076.5,1358.6 1077.4,1360.5 1078.4,1369.8 1079.3,1357.8 1080.3,1366.7 1081.2,1354.6 1082.2,1363.1 1083.1,1372.8 1084.1,1345.5 1085.0,1357.5 1086.0,1379.4 1086.9,1366.7 1087.9,1372.5 1088.8,1367.8 1089.8,1377.1 1090.8,1367.2 1091.7,1365.5 1092.7,1365.4 1093.6,1363.1 1094.6,1361.7 1095.5,1357.2 1096.5,1366.3 1097.4,1376.7 1098.4,1351.6 1099.3,1366.5 1100.3,1375.9 1101.2,1361.4 1102.2,1352.7 1103.1,1354.0 1104.1,1371.7 1105.0,1364.0 1106.0,1366.3 1106.9,1362.9 1107.9,1363.0 1108.8,1363.4 1109.8,1356.7 1110.7,1370.2 1111.7,1363.0 1112.6,1364.1 1113.6,1358.2 1114.5,1366.8 1115.5,1358.8 1116.4,1370.8 1117.4,1379.9 1118.3,1359.8 1119.3,1366.7 1120.2,1376.8 1121.2,1368.5 1122.1,1360.4 1123.1,1373.3 1124.0,1370.9 1125.0,1353.8 1125.9,1376.6 1126.9,1355.3 1127.8,1365.5 1128.8,1365.9 1129.7,1369.3 1130.7,1363.8 1131.6,1363.9 1132.6,1378.5 1133.5,1365.9 1134.5,1385.4 1135.4,1373.1 1136.4,1365.7 1137.3,1362.8 1138.3,1356.2 1139.2,1369.2 1140.2,1372.0 1141.1,1352.0 1142.1,1377.0 1143.0,1368.2 1144.0,1374.8 1144.9,1385.0 1145.9,1364.1 1146.8,1368.2 1147.8,1368.8 1148.7,1360.1 1149.7,1359.4 1150.6,1370.8 1151.6,1360.0 1152.5,1353.5 1153.5,1360.5 1154.4,1367.7 1155.4,1368.8 1156.3,1351.3 1157.3,1365.8 1158.2,1370.7 1159.2,1368.7 1160.2,1376.9 1161.1,1373.7 1162.1,1375.1 1163.0,1366.3 1164.0,1352.9 1164.9,1361.5 1165.9,1372.7 1166.8,1367.9 1167.8,1362.4 1168.7,1367.4 1169.7,1375.1 1170.6,1367.0 1171.6,1354.1 1172.5,1365.7 1173.5,1355.0 1174.4,1361.0 1175.4,1366.6 1176.3,1369.5 1177.3,1358.1 1178.2,1375.4 1179.2,1372.2 1180.1,1370.0 1181.1,1369.8 1182.0,1361.1 1183.0,1374.4 1183.9,1369.7 1184.9,1373.9 1185.8,1369.8 1186.8,1353.1 1187.7,1377.4 1188.7,1384.5 1189.6,1370.6 1190.6,1366.3 1191.5,1370.2 1192.5,1368.2 1193.4,1353.5 1194.4,1374.9 1195.3,1366.6 1196.3,1369.1 1197.2,1367.2 1198.2,1379.1 1199.1,1368.8 1200.1,1350.6 1201.0,1369.5 1202.0,1362.1 1202.9,1375.8 1203.9,1364.6 1204.8,1365.0 1205.8,1371.6 1206.7,1363.7 1207.7,1384.3 1208.6,1370.0 1209.6,1375.1 1210.5,1361.0 1211.5,1368.0 1212.4,1371.1 1213.4,1365.7 1214.3,1376.3 1215.3,1379.0 1216.2,1367.9 1217.2,1370.0 1218.1,1379.1 1219.1,1378.4 1220.0,1369.2 1221.0,1367.8 1221.9,1386.9 1222.9,1369.3 1223.8,1368.7 1224.8,1388.2 1225.7,1367.6 1226.7,1378.1 1227.7,1367.6 1228.6,1366.1 1229.6,1364.8 1230.5,1380.2 1231.5,1368.2 1232.4,1368.5 1233.4,1373.9 1234.3,1370.6 1235.3,1374.7 1236.2,1361.0 1237.2,1363.6 1238.1,1365.9 1239.1,1383.6 1240.0,1371.9 1241.0,1366.3 1241.9,1369.8 1242.9,1365.3 1243.8,1367.1 1244.8,1368.8 1245.7,1377.8 1246.7,1359.8 1247.6,1367.8 1248.6,1375.3 1249.5,1368.2 1250.5,1363.5 1251.4,1365.0 1252.4,1365.5 1253.3,1373.7 1254.3,1363.1 1255.2,1369.3 1256.2,1370.5 1257.1,1358.0 1258.1,1373.9 1259.0,1358.8 1260.0,1362.3 1260.9,1363.6 1261.9,1366.5 1262.8,1376.8 1263.8,1361.2 1264.7,1361.8 1265.7,1379.2 1266.6,1368.6 1267.6,1363.4 1268.5,1360.9 1269.5,1358.8 1270.4,1362.1 1271.4,1369.8 1272.3,1363.9 1273.3,1361.5 1274.2,1367.2 1275.2,1361.3 1276.1,1371.2 1277.1,1367.6 1278.0,1367.2 1279.0,1370.7 1279.9,1365.0 1280.9,1385.2 1281.8,1365.0 1282.8,1367.2 1283.7,1367.9 1284.7,1376.4 1285.6,1369.8 1286.6,1363.9 1287.5,1372.9 1288.5,1359.4 1289.4,1378.6 1290.4,1356.2 1291.3,1374.5 1292.3,1370.9 1293.2,1348.9 1294.2,1356.2 1295.2,1385.2 1296.1,1362.8 1297.1,1373.9 1298.0,1360.5 1299.0,1371.5 1299.9,1367.7 1300.9,1365.8 1301.8,1368.9 1302.8,1378.7 1303.7,1368.2 1304.7,1366.9 1305.6,1369.8 1306.6,1365.2 1307.5,1362.3 1308.5,1367.3 1309.4,1368.8 1310.4,1364.5 1311.3,1371.4 1312.3,1367.5 1313.2,1374.6 1314.2,1387.4 1315.1,1360.3 1316.1,1377.3 1317.0,1370.3 1318.0,1350.4 1318.9,1372.9 1319.9,1363.7 1320.8,1374.8 1321.8,1368.2 1322.7,1369.0 1323.7,1372.7 1324.6,1372.9 1325.6,1369.8 1326.5,1369.9 1327.5,1364.1 1328.4,1379.8 1329.4,1363.1 1330.3,1368.4 1331.3,1375.6 1332.2,1359.1 1333.2,1371.9 1334.1,1367.7 1335.1,1373.5 1336.0,1373.2 1337.0,1373.3 1337.9,1353.9 1338.9,1356.4 1339.8,1360.5 1340.8,1348.5 1341.7,1369.0 1342.7,1384.8 1343.6,1376.8 1344.6,1374.9 1345.5,1392.1 1346.5,1359.9 1347.4,1349.7 1348.4,1376.5 1349.3,1367.9 1350.3,1371.9 1351.2,1374.2 1352.2,1385.5 1353.1,1372.8 1354.1,1372.2 1355.0,1370.8 1356.0,1377.5 1356.9,1365.6 1357.9,1370.5 1358.8,1370.2 1359.8,1373.4 1360.7,1357.2 1361.7,1374.3 1362.7,1368.6 1363.6,1369.7 1364.6,1367.1 1365.5,1380.8 1366.5,1371.5 1367.4,1360.6 1368.4,1375.8 1369.3,1372.6 1370.3,1364.8 1371.2,1384.8 1372.2,1371.8 1373.1,1376.3 1374.1,1386.5 1375.0,1373.3 1376.0,1379.4 1376.9,1388.4 1377.9,1375.2 1378.8,1391.4 1379.8,1373.0 1380.7,1377.8 1381.7,1375.1 1382.6,1371.1 1383.6,1379.1 1384.5,1365.9 1385.5,1372.7 1386.4,1373.8 1387.4,1370.5 1388.3,1373.6 1389.3,1380.6 1390.2,1373.4 1391.2,1372.4 1392.1,1370.5 1393.1,1375.7 1394.0,1375.2 1395.0,1368.0 1395.9,1369.7 1396.9,1369.8 1397.8,1383.0 1398.8,1382.8 1399.7,1368.6 1400.7,1365.7 1401.6,1377.6 1402.6,1369.9 1403.5,1372.0 1404.5,1377.7 1405.4,1383.5 1406.4,1368.9 1407.3,1369.9 1408.3,1378.7 1409.2,1382.0 1410.2,1367.5 1411.1,1370.1 1412.1,1374.5 1413.0,1377.7 1414.0,1357.1 1414.9,1388.3 1415.9,1383.9 1416.8,1378.6 1417.8,1364.7 1418.7,1386.1 1419.7,1364.1 1420.6,1371.1 1421.6,1385.7 1422.5,1370.2 1423.5,1370.4 1424.4,1362.7 1425.4,1370.1 1426.3,1369.6 1427.3,1380.3 1428.2,1380.2 1429.2,1379.5 1430.2,1371.3 1431.1,1373.8 1432.1,1360.4 1433.0,1387.5 1434.0,1368.2 1434.9,1363.8 1435.9,1368.8 1436.8,1383.7 1437.8,1371.1 1438.7,1364.2 1439.7,1366.3 1440.6,1368.4 1441.6,1386.5 1442.5,1368.8 1443.5,1361.3 1444.4,1362.9 1445.4,1370.5 1446.3,1388.9 1447.3,1374.7 1448.2,1373.1 1449.2,1385.8 1450.1,1384.6 1451.1,1374.1 1452.0,1363.1 1453.0,1373.1 1453.9,1373.3 1454.9,1366.5 1455.8,1373.3 1456.8,1366.0 1457.7,1367.6 1458.7,1373.2 1459.6,1343.2 1460.6,1366.9 1461.5,1364.1 1462.5,1367.5 1463.4,1364.7 1464.4,1367.8 1465.3,1370.4 1466.3,1358.1 1467.2,1372.9 1468.2,1376.8 1469.1,1375.9 1470.1,1375.7 1471.0,1369.3 1472.0,1392.1 1472.9,1374.5 1473.9,1364.4 1474.8,1369.2 1475.8,1387.3 1476.7,1370.0 1477.7,1372.0 1478.6,1371.8 1479.6,1379.3 1480.5,1370.3 1481.5,1375.5 1482.4,1366.4 1483.4,1367.7 1484.3,1372.8 1485.3,1376.3 1486.2,1374.6 1487.2,1368.9 1488.1,1375.0 1489.1,1380.3 1490.0,1371.3 1491.0,1371.8 1491.9,1389.1 1492.9,1383.4 1493.8,1368.2 1494.8,1363.9 1495.7,1357.0 1496.7,1377.6 1497.6,1366.9 1498.6,1372.8 1499.6,1363.5 1500.5,1369.9 1501.5,1361.7 1502.4,1370.5 1503.4,1370.1 1504.3,1377.1 1505.3,1372.9 1506.2,1388.4 1507.2,1383.2 1508.1,1373.8 1509.1,1376.0 1510.0,1365.1 1511.0,1364.1 1511.9,1372.7 1512.9,1369.6 1513.8,1369.7 1514.8,1374.8 1515.7,1371.5 1516.7,1372.4 1517.6,1377.3 1518.6,1372.2 1519.5,1378.3 1520.5,1367.0 1521.4,1371.4 1522.4,1369.7 1523.3,1362.6 1524.3,1357.0 1525.2,1376.6 1526.2,1373.2 1527.1,1362.3 1528.1,1366.8 1529.0,1371.1 1530.0,1377.4 1530.9,1363.5 1531.9,1359.4 1532.8,1377.4 1533.8,1364.9 1534.7,1375.1 1535.7,1376.9 1536.6,1367.5 1537.6,1370.8 1538.5,1362.0 1539.5,1368.9 1540.4,1373.3 1541.4,1364.8 1542.3,1371.8 1543.3,1366.5 1544.2,1371.8 1545.2,1369.3 1546.1,1369.6 1547.1,1372.5 1548.0,1351.4 1549.0,1364.4 1549.9,1377.9 1550.9,1365.4 1551.8,1369.9 1552.8,1362.9 1553.7,1370.4 1554.7,1359.0 1555.6,1363.7 1556.6,1375.8 1557.5,1369.2 1558.5,1386.9 1559.4,1366.2 1560.4,1365.6 1561.3,1377.0 1562.3,1375.9 1563.2,1370.4 1564.2,1374.6 1565.1,1371.2 1566.1,1374.4 1567.1,1372.8 1568.0,1368.5 1569.0,1373.5 1569.9,1375.6 1570.9,1374.5 1571.8,1361.6 1572.8,1371.0 1573.7,1356.2 1574.7,1363.2 1575.6,1374.5 1576.6,1375.9 1577.5,1383.8 1578.5,1362.1 1579.4,1377.2 1580.4,1374.0 1581.3,1373.2 1582.3,1372.2 1583.2,1374.0 1584.2,1363.2 1585.1,1372.5 1586.1,1371.7 1587.0,1367.7 1588.0,1372.6 1588.9,1375.2 1589.9,1356.9 1590.8,1375.5 1591.8,1363.4 1592.7,1370.1 1593.7,1362.4 1594.6,1374.9 1595.6,1365.5 1596.5,1372.5 1597.5,1371.2 1598.4,1364.6 1599.4,1360.5 1600.3,1369.8 1601.3,1378.6 1602.2,1377.3 1603.2,1375.5 1604.1,1379.4 1605.1,1381.5 1606.0,1378.7 1607.0,1365.2 1607.9,1372.2 1608.9,1379.3 1609.8,1384.7 1610.8,1378.5 1611.7,1373.7 1612.7,1378.6 1613.6,1372.9 1614.6,1369.4 1615.5,1377.9 1616.5,1374.3 1617.4,1382.8 1618.4,1367.7 1619.3,1374.8 1620.3,1384.7 1621.2,1384.7 1622.2,1377.2 1623.1,1382.9 1624.1,1371.9 1625.0,1360.0 1626.0,1372.7 1626.9,1382.0 1627.9,1375.9 1628.8,1378.1 1629.8,1371.6 1630.7,1372.9 1631.7,1363.0 1632.6,1386.5 1633.6,1374.9 1634.6,1373.5 1635.5,1381.1 1636.5,1379.5 1637.4,1383.3 1638.4,1379.1 1639.3,1374.6 1640.3,1378.9 1641.2,1357.5 1642.2,1383.3 1643.1,1397.0 1644.1,1374.6 1645.0,1393.7 1646.0,1372.2 1646.9,1370.9 1647.9,1378.5 1648.8,1372.8 1649.8,1380.0 1650.7,1378.8 1651.7,1389.9 1652.6,1381.7 1653.6,1387.9 1654.5,1379.4 1655.5,1380.2 1656.4,1379.8 1657.4,1379.1 1658.3,1361.4 1659.3,1369.5 1660.2,1378.4 1661.2,1374.2 1662.1,1379.8 1663.1,1371.5 1664.0,1376.5 1665.0,1377.0 1665.9,1378.6 1666.9,1380.2 1667.8,1373.4 1668.8,1378.2 1669.7,1371.2 1670.7,1376.2 1671.6,1388.2 1672.6,1377.0 1673.5,1375.3 1674.5,1392.2 1675.4,1378.7 1676.4,1377.6 1677.3,1364.1 1678.3,1377.0 1679.2,1378.6 1680.2,1375.7 1681.1,1375.2 1682.1,1377.6 1683.0,1386.6 1684.0,1372.2 1684.9,1365.9 1685.9,1396.3 1686.8,1363.4 1687.8,1386.7 1688.7,1391.3 1689.7,1383.6 1690.6,1362.8 1691.6,1365.3 1692.5,1378.3 1693.5,1386.8 1694.4,1371.1 1695.4,1377.4 1696.3,1394.8 1697.3,1376.4 1698.2,1377.6 1699.2,1375.3 1700.1,1378.3 1701.1,1380.1 1702.1,1364.8 1703.0,1388.9 1704.0,1374.1 1704.9,1367.1 1705.9,1383.1 1706.8,1378.6 1707.8,1373.7 1708.7,1376.0 1709.7,1386.7 1710.6,1374.5 1711.6,1392.5 1712.5,1378.8 1713.5,1378.6 1714.4,1385.7 1715.4,1389.9 1716.3,1380.1 1717.3,1379.9 1718.2,1380.6 1719.2,1381.0 1720.1,1388.2 1721.1,1383.5 1722.0,1387.5 1723.0,1380.7 1723.9,1386.7 1724.9,1368.5 1725.8,1380.2 1726.8,1382.5 1727.7,1383.5 1728.7,1381.7 1729.6,1378.8 1730.6,1362.3 1731.5,1382.3 1732.5,1376.1 1733.4,1377.3 1734.4,1378.7 1735.3,1372.8 1736.3,1377.1 1737.2,1378.3 1738.2,1377.6 1739.1,1383.9 1740.1,1374.7 1741.0,1396.5 1742.0,1378.3 1742.9,1383.7 1743.9,1371.2 1744.8,1373.8 1745.8,1392.2 1746.7,1362.2 1747.7,1384.0 1748.6,1381.7 1749.6,1380.8 1750.5,1378.2 1751.5,1379.8 1752.4,1378.3 1753.4,1386.2 1754.3,1381.3 1755.3,1389.5 1756.2,1376.6 1757.2,1383.2 1758.1,1379.7 1759.1,1383.9 1760.0,1373.5 1761.0,1383.1 1761.9,1375.6 1762.9,1381.6 1763.8,1363.3 1764.8,1383.1 1765.7,1383.4 1766.7,1388.4 1767.6,1367.0 1768.6,1380.0 1769.6,1369.5 1770.5,1380.3 1771.5,1374.4 1772.4,1381.7 1773.4,1380.4 1774.3,1377.8 1775.3,1384.7 1776.2,1364.2 1777.2,1382.2 1778.1,1384.2 1779.1,1394.2 1780.0,1380.0 1781.0,1389.2 1781.9,1373.3 1782.9,1388.6 1783.8,1377.8 1784.8,1381.0 1785.7,1373.1 1786.7,1382.8 1787.6,1381.8 1788.6,1384.7 1789.5,1370.7 1790.5,1379.6 1791.4,1380.1 1792.4,1382.4 1793.3,1359.0 1794.3,1384.8 1795.2,1387.2 1796.2,1372.7 1797.1,1388.3 1798.1,1388.2 1799.0,1377.8 1800.0,1376.1 1800.9,1371.4 1801.9,1373.3 1802.8,1371.9 1803.8,1377.5 1804.7,1382.6 1805.7,1378.0 1806.6,1383.1 1807.6,1389.3 1808.5,1385.8 1809.5,1378.4 1810.4,1389.5 1811.4,1367.4 1812.3,1379.1 1813.3,1386.2 1814.2,1387.8 1815.2,1376.9 1816.1,1374.6 1817.1,1386.1 1818.0,1379.3 1819.0,1376.4 1819.9,1386.3 1820.9,1375.2 1821.8,1386.8 1822.8,1383.5 1823.7,1384.9 1824.7,1385.7 1825.6,1370.8 1826.6,1383.4 1827.5,1383.3 1828.5,1382.9 1829.4,1384.0 1830.4,1372.3 1831.3,1386.6 1832.3,1379.9 1833.2,1390.4 1834.2,1395.0 1835.1,1378.0 1836.1,1377.8 1837.0,1385.9 1838.0,1383.4 1839.0,1381.0 1839.9,1388.7 1840.9,1386.3 1841.8,1386.7 1842.8,1368.9 1843.7,1379.0 1844.7,1379.2 1845.6,1392.5 1846.6,1382.4 1847.5,1385.4 1848.5,1377.6 1849.4,1374.8 1850.4,1383.5 1851.3,1389.1 1852.3,1382.2 1853.2,1386.0 1854.2,1374.1 1855.1,1383.6 1856.1,1375.8 1857.0,1373.9 1858.0,1382.4 1858.9,1396.3 1859.9,1379.2 1860.8,1384.7 1861.8,1374.8 1862.7,1370.3 1863.7,1382.7 1864.6,1372.5 1865.6,1369.4 1866.5,1390.0 1867.5,1369.7 1868.4,1381.4 1869.4,1387.6 1870.3,1376.7 1871.3,1395.4 1872.2,1385.8 1873.2,1378.5 1874.1,1386.4 1875.1,1383.3 1876.0,1377.3 1877.0,1376.5 1877.9,1377.2 1878.9,1383.9 1879.8,1381.5 1880.8,1401.6 1881.7,1377.3 1882.7,1370.0 1883.6,1386.4 1884.6,1391.1 1885.5,1377.5 1886.5,1398.5 1887.4,1383.6 1888.4,1386.9 1889.3,1382.3 1890.3,1389.2 1891.2,1370.9 1892.2,1385.8 1893.1,1386.1 1894.1,1377.7 1895.0,1379.8 1896.0,1372.1 1896.9,1391.5 1897.9,1389.6 1898.8,1396.2 1899.8,1385.0 1900.7,1380.5 1901.7,1391.8 1902.6,1379.6 1903.6,1387.3 1904.5,1385.5 1905.5,1389.7 1906.5,1398.0 1907.4,1386.3 1908.4,1382.5 1909.3,1387.2 1910.3,1380.3 1911.2,1390.1 1912.2,1381.4 1913.1,1379.4 1914.1,1403.1 1915.0,1383.8 1916.0,1390.3 1916.9,1390.3 1917.9,1381.6 1918.8,1386.4 1919.8,1388.7 1920.7,1391.4 1921.7,1386.2 1922.6,1375.6 1923.6,1396.5 1924.5,1388.8 1925.5,1389.4 1926.4,1376.1 1927.4,1393.3"/>
<rect x="185" y="24" width="1901.5" height="1408.5" fill="none" stroke="#000" stroke-width="10.6"/>
<path d="M343.50 1406V1432.5 M660.40 1406V1432.5 M977.30 1406V1432.5 M1294.20 1406V1432.5 M1611.10 1406V1432.5 M1928.00 1406V1432.5 M185.05 1432.5V1446 M501.95 1432.5V1446 M818.85 1432.5V1446 M1135.75 1432.5V1446 M1452.65 1432.5V1446 M1769.55 1432.5V1446 M2086.45 1432.5V1446" stroke="#000" stroke-width="10.6" fill="none"/>
<text transform="translate(343.5,1540.2) scale(1,1.03)" font-family="'Liberation Sans', sans-serif" font-size="101.3" text-anchor="middle">20</text>
<text transform="translate(660.4,1540.2) scale(1,1.03)" font-family="'Liberation Sans', sans-serif" font-size="101.3" text-anchor="middle">30</text>
<text transform="translate(977.3,1540.2) scale(1,1.03)" font-family="'Liberation Sans', sans-serif" font-size="101.3" text-anchor="middle">40</text>
<text transform="translate(1294.2,1540.2) scale(1,1.03)" font-family="'Liberation Sans', sans-serif" font-size="101.3" text-anchor="middle">50</text>
<text transform="translate(1611.1,1540.2) scale(1,1.03)" font-family="'Liberation Sans', sans-serif" font-size="101.3" text-anchor="middle">60</text>
<text transform="translate(1928.0,1540.2) scale(1,1.03)" font-family="'Liberation Sans', sans-serif" font-size="101.3" text-anchor="middle">70</text>
<text transform="translate(0,1665) scale(1,1.04)" font-family="'Liberation Sans', sans-serif" font-size="113" font-weight="bold"><tspan x="1030.6">2</tspan><tspan x="1091.5" font-size="107" font-weight="normal" stroke="#000" stroke-width="2.6">θ</tspan><tspan x="1181.8" font-size="109">(</tspan><tspan x="1222">°</tspan><tspan x="1271" font-size="109">)</tspan></text>
<text transform="translate(98,1151) rotate(-90) scale(1,1.046)" font-family="'Liberation Sans', sans-serif" font-size="114" font-weight="bold">Intensity (a.u.)</text>
<text transform="translate(616.0,401.3) rotate(-90) scale(1,1.046)" font-family="'Liberation Sans', sans-serif" font-size="76.4" font-weight="bold">In<tspan font-size="51" dy="21">2</tspan><tspan dy="-21">O</tspan><tspan font-size="51" dy="21">3</tspan><tspan dy="-21">(222)</tspan></text>
<text transform="translate(864.2,407.0) rotate(-90) scale(1,1.046)" font-family="'Liberation Sans', sans-serif" font-size="76.4" font-weight="bold">In<tspan font-size="51" dy="21">2</tspan><tspan dy="-21">O</tspan><tspan font-size="51" dy="21">3</tspan><tspan dy="-21">(400)</tspan></text>
<text transform="translate(1331.8,440.7) rotate(-90) scale(1,1.046)" font-family="'Liberation Sans', sans-serif" font-size="76.4" font-weight="bold">In<tspan font-size="51" dy="21">2</tspan><tspan dy="-21">O</tspan><tspan font-size="51" dy="21">3</tspan><tspan dy="-21">(440)</tspan></text>
<text transform="translate(1641.9,448.9) rotate(-90) scale(1,1.046)" font-family="'Liberation Sans', sans-serif" font-size="76.4" font-weight="bold">In<tspan font-size="51" dy="21">2</tspan><tspan dy="-21">O</tspan><tspan font-size="51" dy="21">3</tspan><tspan dy="-21">(622)</tspan></text>
<text transform="translate(2017,518.9) scale(1,1.04)" font-family="'Liberation Sans', sans-serif" font-size="84.5" font-weight="bold" text-anchor="end">2000 µs</text>
<text transform="translate(2017,734.7) scale(1,1.04)" font-family="'Liberation Sans', sans-serif" font-size="84.5" font-weight="bold" text-anchor="end">1500 µs</text>
<text transform="translate(2017,928.9) scale(1,1.04)" font-family="'Liberation Sans', sans-serif" font-size="84.5" font-weight="bold" text-anchor="end">1000 µs</text>
<text transform="translate(2017,1121) scale(1,1.04)" font-family="'Liberation Sans', sans-serif" font-size="84.5" font-weight="bold" text-anchor="end">500 µs</text>
<text transform="translate(2015,1341) scale(1,1.04)" font-family="'Liberation Sans', sans-serif" font-size="80" font-weight="bold" text-anchor="end">0 µs</text>
</svg>
</body></html>
